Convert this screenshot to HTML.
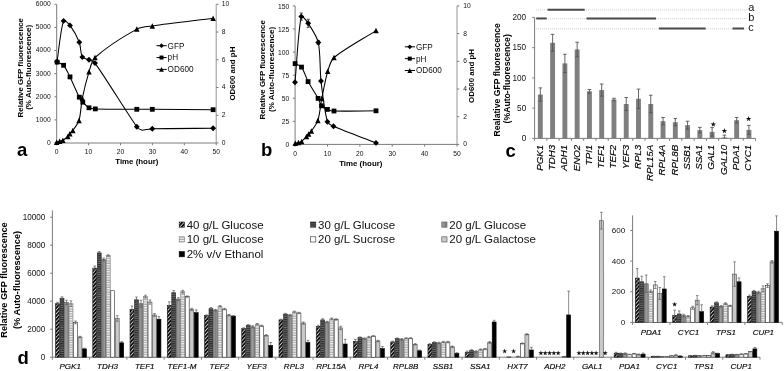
<!DOCTYPE html>
<html><head><meta charset="utf-8"><title>Figure</title>
<style>
html,body{margin:0;padding:0;background:#fff;}
body{width:784px;height:371px;overflow:hidden;font-family:"Liberation Sans",sans-serif;}
svg{display:block;font-family:"Liberation Sans",sans-serif;will-change:transform;filter:grayscale(1) blur(0.4px);}
</style></head><body>
<svg width="784" height="371" viewBox="0 0 784 371">
<defs>
<pattern id="p1" patternUnits="userSpaceOnUse" width="2.6" height="2.6" patternTransform="rotate(-48)">
<rect width="2.6" height="2.6" fill="#fff"/><rect width="2.6" height="1.9" fill="#0c0c0c"/></pattern>
<pattern id="p2" patternUnits="userSpaceOnUse" width="4" height="2.2">
<rect width="4" height="2.2" fill="#2c2c2c"/><rect y="1.2" width="4" height="1.0" fill="#6c6c6c"/></pattern>
<pattern id="p3" patternUnits="userSpaceOnUse" width="1.3" height="4">
<rect width="1.3" height="4" fill="#808080"/><rect width="0.6" height="4" fill="#a0a0a0"/></pattern>
<pattern id="p4" patternUnits="userSpaceOnUse" width="4" height="2.4">
<rect width="4" height="2.4" fill="#f6f6f6"/><rect y="1.2" width="4" height="1.2" fill="#a9a9a9"/></pattern>
</defs>
<rect width="784" height="371" fill="#fff"/>
<line x1="56.70" y1="4.30" x2="56.70" y2="143.00" stroke="#7c7c7c" stroke-width="1"/>
<line x1="216.20" y1="4.30" x2="216.20" y2="143.00" stroke="#8a8a8a" stroke-width="0.9"/>
<line x1="56.70" y1="143.00" x2="216.20" y2="143.00" stroke="#7c7c7c" stroke-width="1"/>
<line x1="54.40" y1="143.00" x2="56.70" y2="143.00" stroke="#7c7c7c" stroke-width="1"/>
<text transform="translate(50.80 144.90) scale(0.85 1)" font-size="7.9" text-anchor="end" font-weight="normal" font-style="normal" fill="#111">0</text>
<line x1="54.40" y1="119.88" x2="56.70" y2="119.88" stroke="#7c7c7c" stroke-width="1"/>
<text transform="translate(50.80 121.78) scale(0.85 1)" font-size="7.9" text-anchor="end" font-weight="normal" font-style="normal" fill="#111">1000</text>
<line x1="54.40" y1="96.77" x2="56.70" y2="96.77" stroke="#7c7c7c" stroke-width="1"/>
<text transform="translate(50.80 98.67) scale(0.85 1)" font-size="7.9" text-anchor="end" font-weight="normal" font-style="normal" fill="#111">2000</text>
<line x1="54.40" y1="73.65" x2="56.70" y2="73.65" stroke="#7c7c7c" stroke-width="1"/>
<text transform="translate(50.80 75.55) scale(0.85 1)" font-size="7.9" text-anchor="end" font-weight="normal" font-style="normal" fill="#111">3000</text>
<line x1="54.40" y1="50.53" x2="56.70" y2="50.53" stroke="#7c7c7c" stroke-width="1"/>
<text transform="translate(50.80 52.43) scale(0.85 1)" font-size="7.9" text-anchor="end" font-weight="normal" font-style="normal" fill="#111">4000</text>
<line x1="54.40" y1="27.42" x2="56.70" y2="27.42" stroke="#7c7c7c" stroke-width="1"/>
<text transform="translate(50.80 29.32) scale(0.85 1)" font-size="7.9" text-anchor="end" font-weight="normal" font-style="normal" fill="#111">5000</text>
<line x1="54.40" y1="4.30" x2="56.70" y2="4.30" stroke="#7c7c7c" stroke-width="1"/>
<text transform="translate(50.80 6.20) scale(0.85 1)" font-size="7.9" text-anchor="end" font-weight="normal" font-style="normal" fill="#111">6000</text>
<line x1="216.20" y1="143.00" x2="218.50" y2="143.00" stroke="#7c7c7c" stroke-width="1"/>
<text transform="translate(221.70 144.90) scale(0.85 1)" font-size="7.9" text-anchor="start" font-weight="normal" font-style="normal" fill="#111">0</text>
<line x1="216.20" y1="115.26" x2="218.50" y2="115.26" stroke="#7c7c7c" stroke-width="1"/>
<text transform="translate(221.70 117.16) scale(0.85 1)" font-size="7.9" text-anchor="start" font-weight="normal" font-style="normal" fill="#111">2</text>
<line x1="216.20" y1="87.52" x2="218.50" y2="87.52" stroke="#7c7c7c" stroke-width="1"/>
<text transform="translate(221.70 89.42) scale(0.85 1)" font-size="7.9" text-anchor="start" font-weight="normal" font-style="normal" fill="#111">4</text>
<line x1="216.20" y1="59.78" x2="218.50" y2="59.78" stroke="#7c7c7c" stroke-width="1"/>
<text transform="translate(221.70 61.68) scale(0.85 1)" font-size="7.9" text-anchor="start" font-weight="normal" font-style="normal" fill="#111">6</text>
<line x1="216.20" y1="32.04" x2="218.50" y2="32.04" stroke="#7c7c7c" stroke-width="1"/>
<text transform="translate(221.70 33.94) scale(0.85 1)" font-size="7.9" text-anchor="start" font-weight="normal" font-style="normal" fill="#111">8</text>
<line x1="216.20" y1="4.30" x2="218.50" y2="4.30" stroke="#7c7c7c" stroke-width="1"/>
<text transform="translate(221.70 6.20) scale(0.85 1)" font-size="7.9" text-anchor="start" font-weight="normal" font-style="normal" fill="#111">10</text>
<line x1="56.70" y1="143.00" x2="56.70" y2="145.30" stroke="#7c7c7c" stroke-width="1"/>
<text transform="translate(56.70 154.40) scale(0.85 1)" font-size="7.9" text-anchor="middle" font-weight="normal" font-style="normal" fill="#111">0</text>
<line x1="88.60" y1="143.00" x2="88.60" y2="145.30" stroke="#7c7c7c" stroke-width="1"/>
<text transform="translate(88.60 154.40) scale(0.85 1)" font-size="7.9" text-anchor="middle" font-weight="normal" font-style="normal" fill="#111">10</text>
<line x1="120.50" y1="143.00" x2="120.50" y2="145.30" stroke="#7c7c7c" stroke-width="1"/>
<text transform="translate(120.50 154.40) scale(0.85 1)" font-size="7.9" text-anchor="middle" font-weight="normal" font-style="normal" fill="#111">20</text>
<line x1="152.40" y1="143.00" x2="152.40" y2="145.30" stroke="#7c7c7c" stroke-width="1"/>
<text transform="translate(152.40 154.40) scale(0.85 1)" font-size="7.9" text-anchor="middle" font-weight="normal" font-style="normal" fill="#111">30</text>
<line x1="184.30" y1="143.00" x2="184.30" y2="145.30" stroke="#7c7c7c" stroke-width="1"/>
<text transform="translate(184.30 154.40) scale(0.85 1)" font-size="7.9" text-anchor="middle" font-weight="normal" font-style="normal" fill="#111">40</text>
<line x1="216.20" y1="143.00" x2="216.20" y2="145.30" stroke="#7c7c7c" stroke-width="1"/>
<text transform="translate(216.20 154.40) scale(0.85 1)" font-size="7.9" text-anchor="middle" font-weight="normal" font-style="normal" fill="#111">50</text>
<text x="136.85" y="164.30" font-size="7.9" text-anchor="middle" font-weight="bold" font-style="normal" fill="#000">Time (hour)</text>
<text x="23.00" y="67.70" font-size="7.9" text-anchor="middle" font-weight="bold" font-style="normal" fill="#000" transform="rotate(-90 23.00 67.70)">Relative GFP fluorescence</text>
<text x="31.40" y="67.30" font-size="8.05" text-anchor="middle" font-weight="bold" font-style="normal" fill="#000" transform="rotate(-90 31.40 67.30)">(% Auto-fluorescence)</text>
<text x="234.70" y="73.60" font-size="7.9" text-anchor="middle" font-weight="bold" font-style="normal" fill="#000" transform="rotate(-90 234.70 73.60)">OD600 and pH</text>
<path d="M57.00,61.70 C58.85,50.28 60.54,29.45 63.60,20.90 C64.18,19.28 68.73,23.67 70.00,25.40 C73.12,29.64 77.38,37.25 79.30,42.20 C80.82,46.12 80.46,53.77 82.30,57.10 C83.17,58.67 87.19,58.84 89.00,59.70 C90.74,60.52 93.89,61.54 95.00,63.10 C107.27,80.33 124.68,109.37 136.80,126.80 C137.73,128.13 140.13,129.68 141.60,130.10 C142.84,130.46 145.13,129.78 146.50,129.60 C148.13,129.39 150.66,128.73 152.30,128.70 C169.31,128.37 196.08,128.41 213.10,128.30" fill="none" stroke="#000" stroke-width="1.05"/>
<path d="M57.10,62.10 C58.92,63.00 62.32,63.83 63.60,65.30 C65.94,67.98 68.36,73.57 70.00,76.90 C72.76,82.51 76.49,91.64 79.30,97.20 C80.07,98.72 81.65,100.95 82.80,102.20 C84.37,103.92 87.02,106.74 89.00,107.80 C90.52,108.61 93.51,108.84 95.30,108.90 C106.90,109.26 125.18,109.22 136.80,109.30 C141.14,109.33 147.96,109.28 152.30,109.30 C169.32,109.39 196.08,109.59 213.10,109.70" fill="none" stroke="#000" stroke-width="1.05"/>
<path d="M56.60,142.20 C57.44,141.92 58.76,141.47 59.60,141.20 C60.52,140.91 62.07,140.67 62.90,140.20 C64.37,139.36 66.55,137.66 67.80,136.50 C68.48,135.87 69.20,134.52 69.80,133.80 C70.60,132.84 72.09,131.52 72.80,130.50 C74.67,127.80 78.09,123.60 79.00,120.50 C80.75,114.58 81.04,104.45 82.30,98.30 C83.84,90.81 86.73,79.09 89.00,71.80 C90.29,67.66 91.86,60.31 95.00,57.50 C105.24,48.35 124.58,35.84 136.80,29.10 C140.63,26.99 147.91,26.52 152.30,25.90 C169.28,23.50 196.08,20.43 213.10,18.30" fill="none" stroke="#000" stroke-width="1.05"/>
<path d="M54.05,61.70 L57.00,58.75 L59.95,61.70 L57.00,64.65Z" fill="#000"/>
<path d="M60.65,20.90 L63.60,17.95 L66.55,20.90 L63.60,23.85Z" fill="#000"/>
<path d="M67.05,25.40 L70.00,22.45 L72.95,25.40 L70.00,28.35Z" fill="#000"/>
<path d="M76.35,42.20 L79.30,39.25 L82.25,42.20 L79.30,45.15Z" fill="#000"/>
<path d="M79.35,57.10 L82.30,54.15 L85.25,57.10 L82.30,60.05Z" fill="#000"/>
<path d="M86.05,59.70 L89.00,56.75 L91.95,59.70 L89.00,62.65Z" fill="#000"/>
<path d="M92.05,63.10 L95.00,60.15 L97.95,63.10 L95.00,66.05Z" fill="#000"/>
<path d="M133.85,126.80 L136.80,123.85 L139.75,126.80 L136.80,129.75Z" fill="#000"/>
<path d="M149.35,128.70 L152.30,125.75 L155.25,128.70 L152.30,131.65Z" fill="#000"/>
<path d="M210.15,128.30 L213.10,125.35 L216.05,128.30 L213.10,131.25Z" fill="#000"/>
<rect x="54.70" y="59.70" width="4.80" height="4.80" fill="#000" stroke="none" stroke-width="0"/>
<rect x="61.20" y="62.90" width="4.80" height="4.80" fill="#000" stroke="none" stroke-width="0"/>
<rect x="67.60" y="74.50" width="4.80" height="4.80" fill="#000" stroke="none" stroke-width="0"/>
<rect x="76.90" y="94.80" width="4.80" height="4.80" fill="#000" stroke="none" stroke-width="0"/>
<rect x="80.40" y="99.80" width="4.80" height="4.80" fill="#000" stroke="none" stroke-width="0"/>
<rect x="86.60" y="105.40" width="4.80" height="4.80" fill="#000" stroke="none" stroke-width="0"/>
<rect x="92.90" y="106.50" width="4.80" height="4.80" fill="#000" stroke="none" stroke-width="0"/>
<rect x="134.40" y="106.90" width="4.80" height="4.80" fill="#000" stroke="none" stroke-width="0"/>
<rect x="149.90" y="106.90" width="4.80" height="4.80" fill="#000" stroke="none" stroke-width="0"/>
<rect x="210.70" y="107.30" width="4.80" height="4.80" fill="#000" stroke="none" stroke-width="0"/>
<path d="M53.85,144.95 L56.60,139.45 L59.35,144.95Z" fill="#000"/>
<path d="M56.85,143.95 L59.60,138.45 L62.35,143.95Z" fill="#000"/>
<path d="M60.15,142.95 L62.90,137.45 L65.65,142.95Z" fill="#000"/>
<path d="M65.05,139.25 L67.80,133.75 L70.55,139.25Z" fill="#000"/>
<path d="M67.05,136.55 L69.80,131.05 L72.55,136.55Z" fill="#000"/>
<path d="M70.05,133.25 L72.80,127.75 L75.55,133.25Z" fill="#000"/>
<path d="M76.25,123.25 L79.00,117.75 L81.75,123.25Z" fill="#000"/>
<path d="M79.55,101.05 L82.30,95.55 L85.05,101.05Z" fill="#000"/>
<path d="M86.25,74.55 L89.00,69.05 L91.75,74.55Z" fill="#000"/>
<path d="M92.25,60.25 L95.00,54.75 L97.75,60.25Z" fill="#000"/>
<path d="M134.05,31.85 L136.80,26.35 L139.55,31.85Z" fill="#000"/>
<path d="M149.55,28.65 L152.30,23.15 L155.05,28.65Z" fill="#000"/>
<path d="M210.35,21.05 L213.10,15.55 L215.85,21.05Z" fill="#000"/>
<text x="17.00" y="155.90" font-size="18.5" text-anchor="start" font-weight="bold" font-style="normal" fill="#000">a</text>
<line x1="156.50" y1="45.70" x2="166.70" y2="45.70" stroke="#000" stroke-width="1"/>
<path d="M159.10,45.70 L161.50,43.30 L163.90,45.70 L161.50,48.10Z" fill="#000"/>
<text x="167.60" y="48.60" font-size="8.2" text-anchor="start" font-weight="normal" font-style="normal" fill="#111">GFP</text>
<line x1="156.50" y1="57.55" x2="166.70" y2="57.55" stroke="#000" stroke-width="1"/>
<rect x="159.50" y="55.55" width="4.00" height="4.00" fill="#000" stroke="none" stroke-width="0"/>
<text x="167.60" y="60.45" font-size="8.2" text-anchor="start" font-weight="normal" font-style="normal" fill="#111">pH</text>
<line x1="156.50" y1="69.40" x2="166.70" y2="69.40" stroke="#000" stroke-width="1"/>
<path d="M159.10,71.80 L161.50,67.00 L163.90,71.80Z" fill="#000"/>
<text x="167.60" y="72.30" font-size="8.2" text-anchor="start" font-weight="normal" font-style="normal" fill="#111">OD600</text>
<line x1="295.10" y1="5.90" x2="295.10" y2="144.40" stroke="#7c7c7c" stroke-width="1"/>
<line x1="457.00" y1="5.90" x2="457.00" y2="144.40" stroke="#8a8a8a" stroke-width="0.9"/>
<line x1="295.10" y1="144.40" x2="457.00" y2="144.40" stroke="#7c7c7c" stroke-width="1"/>
<line x1="292.80" y1="144.40" x2="295.10" y2="144.40" stroke="#7c7c7c" stroke-width="1"/>
<text transform="translate(289.20 147.00) scale(0.85 1)" font-size="7.9" text-anchor="end" font-weight="normal" font-style="normal" fill="#111">0</text>
<line x1="292.80" y1="121.32" x2="295.10" y2="121.32" stroke="#7c7c7c" stroke-width="1"/>
<text transform="translate(289.20 123.92) scale(0.85 1)" font-size="7.9" text-anchor="end" font-weight="normal" font-style="normal" fill="#111">25</text>
<line x1="292.80" y1="98.23" x2="295.10" y2="98.23" stroke="#7c7c7c" stroke-width="1"/>
<text transform="translate(289.20 100.83) scale(0.85 1)" font-size="7.9" text-anchor="end" font-weight="normal" font-style="normal" fill="#111">50</text>
<line x1="292.80" y1="75.15" x2="295.10" y2="75.15" stroke="#7c7c7c" stroke-width="1"/>
<text transform="translate(289.20 77.75) scale(0.85 1)" font-size="7.9" text-anchor="end" font-weight="normal" font-style="normal" fill="#111">75</text>
<line x1="292.80" y1="52.07" x2="295.10" y2="52.07" stroke="#7c7c7c" stroke-width="1"/>
<text transform="translate(289.20 54.67) scale(0.85 1)" font-size="7.9" text-anchor="end" font-weight="normal" font-style="normal" fill="#111">100</text>
<line x1="292.80" y1="28.98" x2="295.10" y2="28.98" stroke="#7c7c7c" stroke-width="1"/>
<text transform="translate(289.20 31.58) scale(0.85 1)" font-size="7.9" text-anchor="end" font-weight="normal" font-style="normal" fill="#111">125</text>
<line x1="292.80" y1="5.90" x2="295.10" y2="5.90" stroke="#7c7c7c" stroke-width="1"/>
<text transform="translate(289.20 8.50) scale(0.85 1)" font-size="7.9" text-anchor="end" font-weight="normal" font-style="normal" fill="#111">150</text>
<line x1="457.00" y1="144.40" x2="459.30" y2="144.40" stroke="#7c7c7c" stroke-width="1"/>
<text transform="translate(463.20 146.30) scale(0.85 1)" font-size="7.9" text-anchor="start" font-weight="normal" font-style="normal" fill="#111">0</text>
<line x1="457.00" y1="116.70" x2="459.30" y2="116.70" stroke="#7c7c7c" stroke-width="1"/>
<text transform="translate(463.20 118.60) scale(0.85 1)" font-size="7.9" text-anchor="start" font-weight="normal" font-style="normal" fill="#111">2</text>
<line x1="457.00" y1="89.00" x2="459.30" y2="89.00" stroke="#7c7c7c" stroke-width="1"/>
<text transform="translate(463.20 90.90) scale(0.85 1)" font-size="7.9" text-anchor="start" font-weight="normal" font-style="normal" fill="#111">4</text>
<line x1="457.00" y1="61.30" x2="459.30" y2="61.30" stroke="#7c7c7c" stroke-width="1"/>
<text transform="translate(463.20 63.20) scale(0.85 1)" font-size="7.9" text-anchor="start" font-weight="normal" font-style="normal" fill="#111">6</text>
<line x1="457.00" y1="33.60" x2="459.30" y2="33.60" stroke="#7c7c7c" stroke-width="1"/>
<text transform="translate(463.20 35.50) scale(0.85 1)" font-size="7.9" text-anchor="start" font-weight="normal" font-style="normal" fill="#111">8</text>
<line x1="457.00" y1="5.90" x2="459.30" y2="5.90" stroke="#7c7c7c" stroke-width="1"/>
<text transform="translate(463.20 7.80) scale(0.85 1)" font-size="7.9" text-anchor="start" font-weight="normal" font-style="normal" fill="#111">10</text>
<line x1="295.10" y1="144.40" x2="295.10" y2="146.70" stroke="#7c7c7c" stroke-width="1"/>
<text transform="translate(295.10 155.80) scale(0.85 1)" font-size="7.9" text-anchor="middle" font-weight="normal" font-style="normal" fill="#111">0</text>
<line x1="327.48" y1="144.40" x2="327.48" y2="146.70" stroke="#7c7c7c" stroke-width="1"/>
<text transform="translate(327.48 155.80) scale(0.85 1)" font-size="7.9" text-anchor="middle" font-weight="normal" font-style="normal" fill="#111">10</text>
<line x1="359.86" y1="144.40" x2="359.86" y2="146.70" stroke="#7c7c7c" stroke-width="1"/>
<text transform="translate(359.86 155.80) scale(0.85 1)" font-size="7.9" text-anchor="middle" font-weight="normal" font-style="normal" fill="#111">20</text>
<line x1="392.24" y1="144.40" x2="392.24" y2="146.70" stroke="#7c7c7c" stroke-width="1"/>
<text transform="translate(392.24 155.80) scale(0.85 1)" font-size="7.9" text-anchor="middle" font-weight="normal" font-style="normal" fill="#111">30</text>
<line x1="424.62" y1="144.40" x2="424.62" y2="146.70" stroke="#7c7c7c" stroke-width="1"/>
<text transform="translate(424.62 155.80) scale(0.85 1)" font-size="7.9" text-anchor="middle" font-weight="normal" font-style="normal" fill="#111">40</text>
<line x1="457.00" y1="144.40" x2="457.00" y2="146.70" stroke="#7c7c7c" stroke-width="1"/>
<text transform="translate(457.00 155.80) scale(0.85 1)" font-size="7.9" text-anchor="middle" font-weight="normal" font-style="normal" fill="#111">50</text>
<text x="360.80" y="165.70" font-size="7.9" text-anchor="middle" font-weight="bold" font-style="normal" fill="#000">Time (hour)</text>
<text x="265.10" y="69.80" font-size="7.9" text-anchor="middle" font-weight="bold" font-style="normal" fill="#000" transform="rotate(-90 265.10 69.80)">Relative GFP fluorescence</text>
<text x="274.30" y="69.40" font-size="8.05" text-anchor="middle" font-weight="bold" font-style="normal" fill="#000" transform="rotate(-90 274.30 69.40)">(% Auto-fluorescence)</text>
<text x="473.60" y="75.90" font-size="7.9" text-anchor="middle" font-weight="bold" font-style="normal" fill="#000" transform="rotate(-90 473.60 75.90)">OD600 and pH</text>
<path d="M295.00,82.20 C296.76,63.83 298.07,30.99 301.30,16.60 C301.77,14.50 306.74,21.07 308.20,23.30 C311.50,28.32 317.01,36.69 318.30,42.50 C320.59,52.84 319.77,70.27 321.00,81.00 C322.32,92.45 324.45,111.00 327.40,121.70 C327.95,123.68 331.55,125.45 333.50,126.30 C345.16,131.38 364.10,138.25 376.00,142.90" fill="none" stroke="#000" stroke-width="1.05"/>
<path d="M295.10,63.60 C296.89,64.58 300.36,65.52 301.50,67.10 C304.00,70.56 306.01,77.67 308.10,81.60 C310.66,86.43 315.45,93.62 318.10,98.40 C319.20,100.39 320.09,104.13 321.50,105.80 C322.70,107.21 325.63,108.67 327.40,109.40 C329.13,110.12 332.11,110.95 334.00,111.00 C345.71,111.34 364.24,110.86 376.00,110.80" fill="none" stroke="#000" stroke-width="1.05"/>
<path d="M295.30,143.30 C296.20,143.08 297.62,142.76 298.50,142.50 C299.41,142.23 300.96,141.95 301.70,141.40 C303.20,140.27 305.20,137.91 306.50,136.50 C307.13,135.81 307.97,134.59 308.60,133.90 C309.34,133.08 310.77,132.01 311.40,131.10 C313.38,128.23 316.85,123.69 317.90,120.40 C319.76,114.56 320.58,104.61 321.80,98.50 C323.33,90.86 325.49,78.73 327.70,71.30 C328.91,67.25 330.85,60.16 334.00,57.50 C344.37,48.76 364.24,38.13 376.00,30.60" fill="none" stroke="#000" stroke-width="1.05"/>
<line x1="301.30" y1="13.00" x2="301.30" y2="20.20" stroke="#333" stroke-width="0.9"/>
<line x1="299.80" y1="13.00" x2="302.80" y2="13.00" stroke="#333" stroke-width="0.9"/>
<line x1="299.80" y1="20.20" x2="302.80" y2="20.20" stroke="#333" stroke-width="0.9"/>
<line x1="308.20" y1="19.30" x2="308.20" y2="27.30" stroke="#333" stroke-width="0.9"/>
<line x1="306.70" y1="19.30" x2="309.70" y2="19.30" stroke="#333" stroke-width="0.9"/>
<line x1="306.70" y1="27.30" x2="309.70" y2="27.30" stroke="#333" stroke-width="0.9"/>
<line x1="318.30" y1="40.50" x2="318.30" y2="44.50" stroke="#333" stroke-width="0.9"/>
<line x1="316.80" y1="40.50" x2="319.80" y2="40.50" stroke="#333" stroke-width="0.9"/>
<line x1="316.80" y1="44.50" x2="319.80" y2="44.50" stroke="#333" stroke-width="0.9"/>
<path d="M292.05,82.20 L295.00,79.25 L297.95,82.20 L295.00,85.15Z" fill="#000"/>
<path d="M298.35,16.60 L301.30,13.65 L304.25,16.60 L301.30,19.55Z" fill="#000"/>
<path d="M305.25,23.30 L308.20,20.35 L311.15,23.30 L308.20,26.25Z" fill="#000"/>
<path d="M315.35,42.50 L318.30,39.55 L321.25,42.50 L318.30,45.45Z" fill="#000"/>
<path d="M318.05,81.00 L321.00,78.05 L323.95,81.00 L321.00,83.95Z" fill="#000"/>
<path d="M324.45,121.70 L327.40,118.75 L330.35,121.70 L327.40,124.65Z" fill="#000"/>
<path d="M330.55,126.30 L333.50,123.35 L336.45,126.30 L333.50,129.25Z" fill="#000"/>
<path d="M373.05,142.90 L376.00,139.95 L378.95,142.90 L376.00,145.85Z" fill="#000"/>
<rect x="292.70" y="61.20" width="4.80" height="4.80" fill="#000" stroke="none" stroke-width="0"/>
<rect x="299.10" y="64.70" width="4.80" height="4.80" fill="#000" stroke="none" stroke-width="0"/>
<rect x="305.70" y="79.20" width="4.80" height="4.80" fill="#000" stroke="none" stroke-width="0"/>
<rect x="315.70" y="96.00" width="4.80" height="4.80" fill="#000" stroke="none" stroke-width="0"/>
<rect x="319.10" y="103.40" width="4.80" height="4.80" fill="#000" stroke="none" stroke-width="0"/>
<rect x="325.00" y="107.00" width="4.80" height="4.80" fill="#000" stroke="none" stroke-width="0"/>
<rect x="331.60" y="108.60" width="4.80" height="4.80" fill="#000" stroke="none" stroke-width="0"/>
<rect x="373.60" y="108.40" width="4.80" height="4.80" fill="#000" stroke="none" stroke-width="0"/>
<path d="M292.55,146.05 L295.30,140.55 L298.05,146.05Z" fill="#000"/>
<path d="M295.75,145.25 L298.50,139.75 L301.25,145.25Z" fill="#000"/>
<path d="M298.95,144.15 L301.70,138.65 L304.45,144.15Z" fill="#000"/>
<path d="M303.75,139.25 L306.50,133.75 L309.25,139.25Z" fill="#000"/>
<path d="M305.85,136.65 L308.60,131.15 L311.35,136.65Z" fill="#000"/>
<path d="M308.65,133.85 L311.40,128.35 L314.15,133.85Z" fill="#000"/>
<path d="M315.15,123.15 L317.90,117.65 L320.65,123.15Z" fill="#000"/>
<path d="M319.05,101.25 L321.80,95.75 L324.55,101.25Z" fill="#000"/>
<path d="M324.95,74.05 L327.70,68.55 L330.45,74.05Z" fill="#000"/>
<path d="M331.25,60.25 L334.00,54.75 L336.75,60.25Z" fill="#000"/>
<path d="M373.25,33.35 L376.00,27.85 L378.75,33.35Z" fill="#000"/>
<text x="261.00" y="155.90" font-size="18.5" text-anchor="start" font-weight="bold" font-style="normal" fill="#000">b</text>
<line x1="404.80" y1="46.80" x2="415.00" y2="46.80" stroke="#000" stroke-width="1"/>
<path d="M407.40,46.80 L409.80,44.40 L412.20,46.80 L409.80,49.20Z" fill="#000"/>
<text x="415.90" y="49.70" font-size="8.2" text-anchor="start" font-weight="normal" font-style="normal" fill="#111">GFP</text>
<line x1="404.80" y1="58.65" x2="415.00" y2="58.65" stroke="#000" stroke-width="1"/>
<rect x="407.80" y="56.65" width="4.00" height="4.00" fill="#000" stroke="none" stroke-width="0"/>
<text x="415.90" y="61.55" font-size="8.2" text-anchor="start" font-weight="normal" font-style="normal" fill="#111">pH</text>
<line x1="404.80" y1="70.50" x2="415.00" y2="70.50" stroke="#000" stroke-width="1"/>
<path d="M407.40,72.90 L409.80,68.10 L412.20,72.90Z" fill="#000"/>
<text x="415.90" y="73.40" font-size="8.2" text-anchor="start" font-weight="normal" font-style="normal" fill="#111">OD600</text>
<line x1="534.60" y1="17.40" x2="534.60" y2="138.40" stroke="#7c7c7c" stroke-width="1"/>
<line x1="534.60" y1="138.40" x2="755.46" y2="138.40" stroke="#7c7c7c" stroke-width="1"/>
<line x1="534.60" y1="138.40" x2="534.60" y2="140.90" stroke="#7c7c7c" stroke-width="1"/>
<line x1="546.87" y1="138.40" x2="546.87" y2="140.90" stroke="#7c7c7c" stroke-width="1"/>
<line x1="559.14" y1="138.40" x2="559.14" y2="140.90" stroke="#7c7c7c" stroke-width="1"/>
<line x1="571.41" y1="138.40" x2="571.41" y2="140.90" stroke="#7c7c7c" stroke-width="1"/>
<line x1="583.68" y1="138.40" x2="583.68" y2="140.90" stroke="#7c7c7c" stroke-width="1"/>
<line x1="595.95" y1="138.40" x2="595.95" y2="140.90" stroke="#7c7c7c" stroke-width="1"/>
<line x1="608.22" y1="138.40" x2="608.22" y2="140.90" stroke="#7c7c7c" stroke-width="1"/>
<line x1="620.49" y1="138.40" x2="620.49" y2="140.90" stroke="#7c7c7c" stroke-width="1"/>
<line x1="632.76" y1="138.40" x2="632.76" y2="140.90" stroke="#7c7c7c" stroke-width="1"/>
<line x1="645.03" y1="138.40" x2="645.03" y2="140.90" stroke="#7c7c7c" stroke-width="1"/>
<line x1="657.30" y1="138.40" x2="657.30" y2="140.90" stroke="#7c7c7c" stroke-width="1"/>
<line x1="669.57" y1="138.40" x2="669.57" y2="140.90" stroke="#7c7c7c" stroke-width="1"/>
<line x1="681.84" y1="138.40" x2="681.84" y2="140.90" stroke="#7c7c7c" stroke-width="1"/>
<line x1="694.11" y1="138.40" x2="694.11" y2="140.90" stroke="#7c7c7c" stroke-width="1"/>
<line x1="706.38" y1="138.40" x2="706.38" y2="140.90" stroke="#7c7c7c" stroke-width="1"/>
<line x1="718.65" y1="138.40" x2="718.65" y2="140.90" stroke="#7c7c7c" stroke-width="1"/>
<line x1="730.92" y1="138.40" x2="730.92" y2="140.90" stroke="#7c7c7c" stroke-width="1"/>
<line x1="743.19" y1="138.40" x2="743.19" y2="140.90" stroke="#7c7c7c" stroke-width="1"/>
<line x1="755.46" y1="138.40" x2="755.46" y2="140.90" stroke="#7c7c7c" stroke-width="1"/>
<line x1="532.30" y1="138.40" x2="534.60" y2="138.40" stroke="#7c7c7c" stroke-width="1"/>
<text x="526.20" y="141.20" font-size="8.2" text-anchor="end" font-weight="normal" font-style="normal" fill="#111">0</text>
<line x1="532.30" y1="108.15" x2="534.60" y2="108.15" stroke="#7c7c7c" stroke-width="1"/>
<text x="526.20" y="110.95" font-size="8.2" text-anchor="end" font-weight="normal" font-style="normal" fill="#111">50</text>
<line x1="532.30" y1="77.90" x2="534.60" y2="77.90" stroke="#7c7c7c" stroke-width="1"/>
<text x="526.20" y="80.70" font-size="8.2" text-anchor="end" font-weight="normal" font-style="normal" fill="#111">100</text>
<line x1="532.30" y1="47.65" x2="534.60" y2="47.65" stroke="#7c7c7c" stroke-width="1"/>
<text x="526.20" y="50.45" font-size="8.2" text-anchor="end" font-weight="normal" font-style="normal" fill="#111">150</text>
<line x1="532.30" y1="17.40" x2="534.60" y2="17.40" stroke="#7c7c7c" stroke-width="1"/>
<text x="526.20" y="20.20" font-size="8.2" text-anchor="end" font-weight="normal" font-style="normal" fill="#111">200</text>
<line x1="535.90" y1="9.90" x2="746.90" y2="9.90" stroke="#c2c2c2" stroke-width="0.8" stroke-dasharray="1,1"/>
<line x1="535.90" y1="18.70" x2="746.90" y2="18.70" stroke="#c2c2c2" stroke-width="0.8" stroke-dasharray="1,1"/>
<line x1="535.90" y1="28.90" x2="746.90" y2="28.90" stroke="#c2c2c2" stroke-width="0.8" stroke-dasharray="1,1"/>
<line x1="547.50" y1="9.80" x2="584.70" y2="9.80" stroke="#4a4a4a" stroke-width="2.0"/>
<line x1="536.20" y1="18.45" x2="546.70" y2="18.45" stroke="#4a4a4a" stroke-width="2.0"/>
<line x1="586.50" y1="18.45" x2="656.00" y2="18.45" stroke="#4a4a4a" stroke-width="2.0"/>
<line x1="658.90" y1="28.50" x2="705.70" y2="28.50" stroke="#4a4a4a" stroke-width="2.0"/>
<line x1="732.50" y1="28.50" x2="744.00" y2="28.50" stroke="#4a4a4a" stroke-width="2.0"/>
<text x="748.30" y="11.20" font-size="11" text-anchor="start" font-weight="normal" font-style="normal" fill="#111">a</text>
<text x="748.30" y="21.00" font-size="11" text-anchor="start" font-weight="normal" font-style="normal" fill="#111">b</text>
<text x="748.30" y="31.30" font-size="11" text-anchor="start" font-weight="normal" font-style="normal" fill="#111">c</text>
<rect x="537.88" y="94.54" width="4.90" height="43.86" fill="#7f7f7f" stroke="none" stroke-width="0"/>
<line x1="540.34" y1="87.88" x2="540.34" y2="101.19" stroke="#555" stroke-width="0.9"/>
<line x1="538.54" y1="87.88" x2="542.13" y2="87.88" stroke="#555" stroke-width="0.9"/>
<line x1="538.54" y1="101.19" x2="542.13" y2="101.19" stroke="#555" stroke-width="0.9"/>
<text x="542.74" y="144.70" font-size="9.75" text-anchor="end" font-weight="normal" font-style="italic" fill="#000" transform="rotate(-90 542.74 144.70)" stroke="#000" stroke-width="0.15">PGK1</text>
<rect x="550.15" y="42.81" width="4.90" height="95.59" fill="#7f7f7f" stroke="none" stroke-width="0"/>
<line x1="552.61" y1="34.34" x2="552.61" y2="51.28" stroke="#555" stroke-width="0.9"/>
<line x1="550.81" y1="34.34" x2="554.40" y2="34.34" stroke="#555" stroke-width="0.9"/>
<line x1="550.81" y1="51.28" x2="554.40" y2="51.28" stroke="#555" stroke-width="0.9"/>
<text x="555.00" y="144.70" font-size="9.75" text-anchor="end" font-weight="normal" font-style="italic" fill="#000" transform="rotate(-90 555.00 144.70)" stroke="#000" stroke-width="0.15">TDH3</text>
<rect x="562.42" y="63.38" width="4.90" height="75.02" fill="#7f7f7f" stroke="none" stroke-width="0"/>
<line x1="564.88" y1="54.31" x2="564.88" y2="72.46" stroke="#555" stroke-width="0.9"/>
<line x1="563.08" y1="54.31" x2="566.67" y2="54.31" stroke="#555" stroke-width="0.9"/>
<line x1="563.08" y1="72.46" x2="566.67" y2="72.46" stroke="#555" stroke-width="0.9"/>
<text x="567.27" y="144.70" font-size="9.75" text-anchor="end" font-weight="normal" font-style="italic" fill="#000" transform="rotate(-90 567.27 144.70)" stroke="#000" stroke-width="0.15">ADH1</text>
<rect x="574.70" y="49.47" width="4.90" height="88.94" fill="#7f7f7f" stroke="none" stroke-width="0"/>
<line x1="577.15" y1="42.21" x2="577.15" y2="56.73" stroke="#555" stroke-width="0.9"/>
<line x1="575.35" y1="42.21" x2="578.95" y2="42.21" stroke="#555" stroke-width="0.9"/>
<line x1="575.35" y1="56.73" x2="578.95" y2="56.73" stroke="#555" stroke-width="0.9"/>
<text x="579.55" y="144.70" font-size="9.75" text-anchor="end" font-weight="normal" font-style="italic" fill="#000" transform="rotate(-90 579.55 144.70)" stroke="#000" stroke-width="0.15">ENO2</text>
<rect x="586.97" y="91.33" width="4.90" height="47.07" fill="#7f7f7f" stroke="none" stroke-width="0"/>
<line x1="589.42" y1="89.52" x2="589.42" y2="93.15" stroke="#555" stroke-width="0.9"/>
<line x1="587.62" y1="89.52" x2="591.22" y2="89.52" stroke="#555" stroke-width="0.9"/>
<line x1="587.62" y1="93.15" x2="591.22" y2="93.15" stroke="#555" stroke-width="0.9"/>
<text x="591.82" y="144.70" font-size="9.75" text-anchor="end" font-weight="normal" font-style="italic" fill="#000" transform="rotate(-90 591.82 144.70)" stroke="#000" stroke-width="0.15">TPI1</text>
<rect x="599.24" y="90.06" width="4.90" height="48.34" fill="#7f7f7f" stroke="none" stroke-width="0"/>
<line x1="601.69" y1="84.01" x2="601.69" y2="96.11" stroke="#555" stroke-width="0.9"/>
<line x1="599.89" y1="84.01" x2="603.49" y2="84.01" stroke="#555" stroke-width="0.9"/>
<line x1="599.89" y1="96.11" x2="603.49" y2="96.11" stroke="#555" stroke-width="0.9"/>
<text x="604.09" y="144.70" font-size="9.75" text-anchor="end" font-weight="normal" font-style="italic" fill="#000" transform="rotate(-90 604.09 144.70)" stroke="#000" stroke-width="0.15">TEF1</text>
<rect x="611.50" y="99.50" width="4.90" height="38.90" fill="#7f7f7f" stroke="none" stroke-width="0"/>
<line x1="613.96" y1="98.29" x2="613.96" y2="100.71" stroke="#555" stroke-width="0.9"/>
<line x1="612.16" y1="98.29" x2="615.75" y2="98.29" stroke="#555" stroke-width="0.9"/>
<line x1="612.16" y1="100.71" x2="615.75" y2="100.71" stroke="#555" stroke-width="0.9"/>
<text x="616.36" y="144.70" font-size="9.75" text-anchor="end" font-weight="normal" font-style="italic" fill="#000" transform="rotate(-90 616.36 144.70)" stroke="#000" stroke-width="0.15">TEF2</text>
<rect x="623.77" y="103.98" width="4.90" height="34.42" fill="#7f7f7f" stroke="none" stroke-width="0"/>
<line x1="626.23" y1="97.50" x2="626.23" y2="110.45" stroke="#555" stroke-width="0.9"/>
<line x1="624.43" y1="97.50" x2="628.02" y2="97.50" stroke="#555" stroke-width="0.9"/>
<line x1="624.43" y1="110.45" x2="628.02" y2="110.45" stroke="#555" stroke-width="0.9"/>
<text x="628.62" y="144.70" font-size="9.75" text-anchor="end" font-weight="normal" font-style="italic" fill="#000" transform="rotate(-90 628.62 144.70)" stroke="#000" stroke-width="0.15">YEF3</text>
<rect x="636.04" y="98.77" width="4.90" height="39.63" fill="#7f7f7f" stroke="none" stroke-width="0"/>
<line x1="638.50" y1="89.09" x2="638.50" y2="108.45" stroke="#555" stroke-width="0.9"/>
<line x1="636.70" y1="89.09" x2="640.29" y2="89.09" stroke="#555" stroke-width="0.9"/>
<line x1="636.70" y1="108.45" x2="640.29" y2="108.45" stroke="#555" stroke-width="0.9"/>
<text x="640.89" y="144.70" font-size="9.75" text-anchor="end" font-weight="normal" font-style="italic" fill="#000" transform="rotate(-90 640.89 144.70)" stroke="#000" stroke-width="0.15">RPL3</text>
<rect x="648.31" y="103.98" width="4.90" height="34.42" fill="#7f7f7f" stroke="none" stroke-width="0"/>
<line x1="650.76" y1="95.26" x2="650.76" y2="112.69" stroke="#555" stroke-width="0.9"/>
<line x1="648.97" y1="95.26" x2="652.56" y2="95.26" stroke="#555" stroke-width="0.9"/>
<line x1="648.97" y1="112.69" x2="652.56" y2="112.69" stroke="#555" stroke-width="0.9"/>
<text x="653.16" y="144.70" font-size="9.75" text-anchor="end" font-weight="normal" font-style="italic" fill="#000" transform="rotate(-90 653.16 144.70)" stroke="#000" stroke-width="0.15">RPL15A</text>
<rect x="660.59" y="121.16" width="4.90" height="17.24" fill="#7f7f7f" stroke="none" stroke-width="0"/>
<line x1="663.04" y1="117.53" x2="663.04" y2="124.79" stroke="#555" stroke-width="0.9"/>
<line x1="661.24" y1="117.53" x2="664.84" y2="117.53" stroke="#555" stroke-width="0.9"/>
<line x1="661.24" y1="124.79" x2="664.84" y2="124.79" stroke="#555" stroke-width="0.9"/>
<text x="665.44" y="144.70" font-size="9.75" text-anchor="end" font-weight="normal" font-style="italic" fill="#000" transform="rotate(-90 665.44 144.70)" stroke="#000" stroke-width="0.15">RPL4A</text>
<rect x="672.86" y="122.19" width="4.90" height="16.21" fill="#7f7f7f" stroke="none" stroke-width="0"/>
<line x1="675.31" y1="118.56" x2="675.31" y2="125.82" stroke="#555" stroke-width="0.9"/>
<line x1="673.51" y1="118.56" x2="677.11" y2="118.56" stroke="#555" stroke-width="0.9"/>
<line x1="673.51" y1="125.82" x2="677.11" y2="125.82" stroke="#555" stroke-width="0.9"/>
<text x="677.71" y="144.70" font-size="9.75" text-anchor="end" font-weight="normal" font-style="italic" fill="#000" transform="rotate(-90 677.71 144.70)" stroke="#000" stroke-width="0.15">RPL8B</text>
<rect x="685.12" y="125.15" width="4.90" height="13.25" fill="#7f7f7f" stroke="none" stroke-width="0"/>
<line x1="687.58" y1="121.22" x2="687.58" y2="129.08" stroke="#555" stroke-width="0.9"/>
<line x1="685.78" y1="121.22" x2="689.38" y2="121.22" stroke="#555" stroke-width="0.9"/>
<line x1="685.78" y1="129.08" x2="689.38" y2="129.08" stroke="#555" stroke-width="0.9"/>
<text x="689.98" y="144.70" font-size="9.75" text-anchor="end" font-weight="normal" font-style="italic" fill="#000" transform="rotate(-90 689.98 144.70)" stroke="#000" stroke-width="0.15">SSB1</text>
<rect x="697.39" y="130.11" width="4.90" height="8.29" fill="#7f7f7f" stroke="none" stroke-width="0"/>
<line x1="699.85" y1="127.39" x2="699.85" y2="132.83" stroke="#555" stroke-width="0.9"/>
<line x1="698.05" y1="127.39" x2="701.64" y2="127.39" stroke="#555" stroke-width="0.9"/>
<line x1="698.05" y1="132.83" x2="701.64" y2="132.83" stroke="#555" stroke-width="0.9"/>
<text x="702.25" y="144.70" font-size="9.75" text-anchor="end" font-weight="normal" font-style="italic" fill="#000" transform="rotate(-90 702.25 144.70)" stroke="#000" stroke-width="0.15">SSA1</text>
<rect x="709.66" y="131.87" width="4.90" height="6.53" fill="#7f7f7f" stroke="none" stroke-width="0"/>
<line x1="712.12" y1="127.63" x2="712.12" y2="136.10" stroke="#555" stroke-width="0.9"/>
<line x1="710.32" y1="127.63" x2="713.91" y2="127.63" stroke="#555" stroke-width="0.9"/>
<line x1="710.32" y1="136.10" x2="713.91" y2="136.10" stroke="#555" stroke-width="0.9"/>
<text x="714.51" y="144.70" font-size="9.75" text-anchor="end" font-weight="normal" font-style="italic" fill="#000" transform="rotate(-90 714.51 144.70)" stroke="#000" stroke-width="0.15">GAL1</text>
<rect x="721.94" y="137.37" width="4.90" height="1.03" fill="#7f7f7f" stroke="none" stroke-width="0"/>
<line x1="724.39" y1="135.13" x2="724.39" y2="138.40" stroke="#555" stroke-width="0.9"/>
<line x1="722.59" y1="135.13" x2="726.19" y2="135.13" stroke="#555" stroke-width="0.9"/>
<text x="726.79" y="144.70" font-size="9.75" text-anchor="end" font-weight="normal" font-style="italic" fill="#000" transform="rotate(-90 726.79 144.70)" stroke="#000" stroke-width="0.15">GAL10</text>
<rect x="734.21" y="120.19" width="4.90" height="18.21" fill="#7f7f7f" stroke="none" stroke-width="0"/>
<line x1="736.66" y1="117.47" x2="736.66" y2="122.91" stroke="#555" stroke-width="0.9"/>
<line x1="734.86" y1="117.47" x2="738.46" y2="117.47" stroke="#555" stroke-width="0.9"/>
<line x1="734.86" y1="122.91" x2="738.46" y2="122.91" stroke="#555" stroke-width="0.9"/>
<text x="739.06" y="144.70" font-size="9.75" text-anchor="end" font-weight="normal" font-style="italic" fill="#000" transform="rotate(-90 739.06 144.70)" stroke="#000" stroke-width="0.15">PDA1</text>
<rect x="746.48" y="129.87" width="4.90" height="8.53" fill="#7f7f7f" stroke="none" stroke-width="0"/>
<line x1="748.93" y1="125.39" x2="748.93" y2="134.35" stroke="#555" stroke-width="0.9"/>
<line x1="747.13" y1="125.39" x2="750.73" y2="125.39" stroke="#555" stroke-width="0.9"/>
<line x1="747.13" y1="134.35" x2="750.73" y2="134.35" stroke="#555" stroke-width="0.9"/>
<text x="751.33" y="144.70" font-size="9.75" text-anchor="end" font-weight="normal" font-style="italic" fill="#000" transform="rotate(-90 751.33 144.70)" stroke="#000" stroke-width="0.15">CYC1</text>
<polygon points="713.30,121.40 713.95,123.41 716.06,123.40 714.35,124.64 715.00,126.65 713.30,125.40 711.60,126.65 712.25,124.64 710.54,123.40 712.65,123.41" fill="#111"/>
<polygon points="724.40,128.10 725.05,130.11 727.16,130.10 725.45,131.34 726.10,133.35 724.40,132.10 722.70,133.35 723.35,131.34 721.64,130.10 723.75,130.11" fill="#111"/>
<polygon points="748.60,115.90 749.25,117.91 751.36,117.90 749.65,119.14 750.30,121.15 748.60,119.90 746.90,121.15 747.55,119.14 745.84,117.90 747.95,117.91" fill="#111"/>
<text x="505.40" y="157.00" font-size="18.5" text-anchor="start" font-weight="bold" font-style="normal" fill="#000">c</text>
<text x="500.20" y="79.80" font-size="8.65" text-anchor="middle" font-weight="bold" font-style="normal" fill="#000" transform="rotate(-90 500.20 79.80)">Realative GFP fluorescence</text>
<text x="510.00" y="78.80" font-size="8.65" text-anchor="middle" font-weight="bold" font-style="normal" fill="#000" transform="rotate(-90 510.00 78.80)">(%Auto-fluorescence)</text>
<line x1="52.40" y1="210.40" x2="52.40" y2="357.20" stroke="#7c7c7c" stroke-width="1"/>
<line x1="52.40" y1="357.20" x2="760.00" y2="357.20" stroke="#7c7c7c" stroke-width="1"/>
<line x1="52.40" y1="357.20" x2="52.40" y2="359.70" stroke="#7c7c7c" stroke-width="1"/>
<line x1="89.64" y1="357.20" x2="89.64" y2="359.70" stroke="#7c7c7c" stroke-width="1"/>
<line x1="126.88" y1="357.20" x2="126.88" y2="359.70" stroke="#7c7c7c" stroke-width="1"/>
<line x1="164.13" y1="357.20" x2="164.13" y2="359.70" stroke="#7c7c7c" stroke-width="1"/>
<line x1="201.37" y1="357.20" x2="201.37" y2="359.70" stroke="#7c7c7c" stroke-width="1"/>
<line x1="238.61" y1="357.20" x2="238.61" y2="359.70" stroke="#7c7c7c" stroke-width="1"/>
<line x1="275.85" y1="357.20" x2="275.85" y2="359.70" stroke="#7c7c7c" stroke-width="1"/>
<line x1="313.09" y1="357.20" x2="313.09" y2="359.70" stroke="#7c7c7c" stroke-width="1"/>
<line x1="350.34" y1="357.20" x2="350.34" y2="359.70" stroke="#7c7c7c" stroke-width="1"/>
<line x1="387.58" y1="357.20" x2="387.58" y2="359.70" stroke="#7c7c7c" stroke-width="1"/>
<line x1="424.82" y1="357.20" x2="424.82" y2="359.70" stroke="#7c7c7c" stroke-width="1"/>
<line x1="462.06" y1="357.20" x2="462.06" y2="359.70" stroke="#7c7c7c" stroke-width="1"/>
<line x1="499.31" y1="357.20" x2="499.31" y2="359.70" stroke="#7c7c7c" stroke-width="1"/>
<line x1="536.55" y1="357.20" x2="536.55" y2="359.70" stroke="#7c7c7c" stroke-width="1"/>
<line x1="573.79" y1="357.20" x2="573.79" y2="359.70" stroke="#7c7c7c" stroke-width="1"/>
<line x1="611.03" y1="357.20" x2="611.03" y2="359.70" stroke="#7c7c7c" stroke-width="1"/>
<line x1="648.27" y1="357.20" x2="648.27" y2="359.70" stroke="#7c7c7c" stroke-width="1"/>
<line x1="685.52" y1="357.20" x2="685.52" y2="359.70" stroke="#7c7c7c" stroke-width="1"/>
<line x1="722.76" y1="357.20" x2="722.76" y2="359.70" stroke="#7c7c7c" stroke-width="1"/>
<line x1="760.00" y1="357.20" x2="760.00" y2="359.70" stroke="#7c7c7c" stroke-width="1"/>
<line x1="50.10" y1="357.20" x2="52.40" y2="357.20" stroke="#7c7c7c" stroke-width="1"/>
<text x="45.40" y="359.90" font-size="8.15" text-anchor="end" font-weight="normal" font-style="normal" fill="#111">0</text>
<line x1="50.10" y1="329.20" x2="52.40" y2="329.20" stroke="#7c7c7c" stroke-width="1"/>
<text x="45.40" y="331.90" font-size="8.15" text-anchor="end" font-weight="normal" font-style="normal" fill="#111">2000</text>
<line x1="50.10" y1="301.20" x2="52.40" y2="301.20" stroke="#7c7c7c" stroke-width="1"/>
<text x="45.40" y="303.90" font-size="8.15" text-anchor="end" font-weight="normal" font-style="normal" fill="#111">4000</text>
<line x1="50.10" y1="273.20" x2="52.40" y2="273.20" stroke="#7c7c7c" stroke-width="1"/>
<text x="45.40" y="275.90" font-size="8.15" text-anchor="end" font-weight="normal" font-style="normal" fill="#111">6000</text>
<line x1="50.10" y1="245.20" x2="52.40" y2="245.20" stroke="#7c7c7c" stroke-width="1"/>
<text x="45.40" y="247.90" font-size="8.15" text-anchor="end" font-weight="normal" font-style="normal" fill="#111">8000</text>
<line x1="50.10" y1="217.20" x2="52.40" y2="217.20" stroke="#7c7c7c" stroke-width="1"/>
<text x="45.40" y="219.90" font-size="8.15" text-anchor="end" font-weight="normal" font-style="normal" fill="#111">10000</text>
<rect x="55.55" y="303.71" width="3.90" height="53.49" fill="url(#p1)" stroke="#111" stroke-width="0.6"/>
<line x1="57.50" y1="302.31" x2="57.50" y2="305.11" stroke="#5a5a5a" stroke-width="0.7"/>
<line x1="56.20" y1="302.31" x2="58.80" y2="302.31" stroke="#5a5a5a" stroke-width="0.7"/>
<line x1="56.20" y1="305.11" x2="58.80" y2="305.11" stroke="#5a5a5a" stroke-width="0.7"/>
<rect x="60.05" y="298.20" width="3.90" height="59.00" fill="url(#p2)" stroke="#222" stroke-width="0.6"/>
<line x1="62.00" y1="296.80" x2="62.00" y2="299.60" stroke="#5a5a5a" stroke-width="0.7"/>
<line x1="60.70" y1="296.80" x2="63.30" y2="296.80" stroke="#5a5a5a" stroke-width="0.7"/>
<line x1="60.70" y1="299.60" x2="63.30" y2="299.60" stroke="#5a5a5a" stroke-width="0.7"/>
<rect x="64.55" y="302.40" width="3.90" height="54.80" fill="url(#p3)" stroke="#555" stroke-width="0.6"/>
<line x1="66.50" y1="300.30" x2="66.50" y2="304.50" stroke="#5a5a5a" stroke-width="0.7"/>
<line x1="65.20" y1="300.30" x2="67.80" y2="300.30" stroke="#5a5a5a" stroke-width="0.7"/>
<line x1="65.20" y1="304.50" x2="67.80" y2="304.50" stroke="#5a5a5a" stroke-width="0.7"/>
<rect x="69.05" y="303.71" width="3.90" height="53.49" fill="url(#p4)" stroke="#777" stroke-width="0.6"/>
<line x1="71.00" y1="300.91" x2="71.00" y2="306.51" stroke="#5a5a5a" stroke-width="0.7"/>
<line x1="69.70" y1="300.91" x2="72.30" y2="300.91" stroke="#5a5a5a" stroke-width="0.7"/>
<line x1="69.70" y1="306.51" x2="72.30" y2="306.51" stroke="#5a5a5a" stroke-width="0.7"/>
<rect x="73.55" y="322.40" width="3.90" height="34.80" fill="#fff" stroke="#2a2a2a" stroke-width="0.6"/>
<line x1="75.50" y1="321.00" x2="75.50" y2="323.80" stroke="#5a5a5a" stroke-width="0.7"/>
<line x1="74.20" y1="321.00" x2="76.80" y2="321.00" stroke="#5a5a5a" stroke-width="0.7"/>
<line x1="74.20" y1="323.80" x2="76.80" y2="323.80" stroke="#5a5a5a" stroke-width="0.7"/>
<rect x="78.05" y="337.00" width="3.90" height="20.20" fill="#c9c9c9" stroke="#4a4a4a" stroke-width="0.6"/>
<line x1="80.00" y1="336.30" x2="80.00" y2="337.70" stroke="#5a5a5a" stroke-width="0.7"/>
<line x1="78.70" y1="336.30" x2="81.30" y2="336.30" stroke="#5a5a5a" stroke-width="0.7"/>
<line x1="78.70" y1="337.70" x2="81.30" y2="337.70" stroke="#5a5a5a" stroke-width="0.7"/>
<rect x="82.55" y="348.90" width="3.90" height="8.30" fill="#000" stroke="#000" stroke-width="0.6"/>
<line x1="84.50" y1="348.20" x2="84.50" y2="348.90" stroke="#5a5a5a" stroke-width="0.7"/>
<line x1="83.20" y1="348.20" x2="85.80" y2="348.20" stroke="#5a5a5a" stroke-width="0.7"/>
<text x="70.20" y="369.20" font-size="8.0" text-anchor="middle" font-weight="normal" font-style="italic" fill="#000" stroke="#000" stroke-width="0.15">PGK1</text>
<rect x="92.79" y="268.10" width="3.90" height="89.10" fill="url(#p1)" stroke="#111" stroke-width="0.6"/>
<line x1="94.74" y1="266.00" x2="94.74" y2="270.20" stroke="#5a5a5a" stroke-width="0.7"/>
<line x1="93.44" y1="266.00" x2="96.04" y2="266.00" stroke="#5a5a5a" stroke-width="0.7"/>
<line x1="93.44" y1="270.20" x2="96.04" y2="270.20" stroke="#5a5a5a" stroke-width="0.7"/>
<rect x="97.29" y="252.90" width="3.90" height="104.30" fill="url(#p2)" stroke="#222" stroke-width="0.6"/>
<line x1="99.24" y1="251.50" x2="99.24" y2="254.30" stroke="#5a5a5a" stroke-width="0.7"/>
<line x1="97.94" y1="251.50" x2="100.54" y2="251.50" stroke="#5a5a5a" stroke-width="0.7"/>
<line x1="97.94" y1="254.30" x2="100.54" y2="254.30" stroke="#5a5a5a" stroke-width="0.7"/>
<rect x="101.79" y="259.40" width="3.90" height="97.80" fill="url(#p3)" stroke="#555" stroke-width="0.6"/>
<line x1="103.74" y1="258.00" x2="103.74" y2="260.80" stroke="#5a5a5a" stroke-width="0.7"/>
<line x1="102.44" y1="258.00" x2="105.04" y2="258.00" stroke="#5a5a5a" stroke-width="0.7"/>
<line x1="102.44" y1="260.80" x2="105.04" y2="260.80" stroke="#5a5a5a" stroke-width="0.7"/>
<rect x="106.29" y="255.50" width="3.90" height="101.70" fill="url(#p4)" stroke="#777" stroke-width="0.6"/>
<line x1="108.24" y1="254.80" x2="108.24" y2="256.20" stroke="#5a5a5a" stroke-width="0.7"/>
<line x1="106.94" y1="254.80" x2="109.54" y2="254.80" stroke="#5a5a5a" stroke-width="0.7"/>
<line x1="106.94" y1="256.20" x2="109.54" y2="256.20" stroke="#5a5a5a" stroke-width="0.7"/>
<rect x="110.79" y="290.70" width="3.90" height="66.50" fill="#fff" stroke="#2a2a2a" stroke-width="0.6"/>
<rect x="115.29" y="318.50" width="3.90" height="38.70" fill="#c9c9c9" stroke="#4a4a4a" stroke-width="0.6"/>
<line x1="117.24" y1="315.70" x2="117.24" y2="321.30" stroke="#5a5a5a" stroke-width="0.7"/>
<line x1="115.94" y1="315.70" x2="118.54" y2="315.70" stroke="#5a5a5a" stroke-width="0.7"/>
<line x1="115.94" y1="321.30" x2="118.54" y2="321.30" stroke="#5a5a5a" stroke-width="0.7"/>
<rect x="119.79" y="342.79" width="3.90" height="14.41" fill="#000" stroke="#000" stroke-width="0.6"/>
<line x1="121.74" y1="341.67" x2="121.74" y2="342.79" stroke="#5a5a5a" stroke-width="0.7"/>
<line x1="120.44" y1="341.67" x2="123.04" y2="341.67" stroke="#5a5a5a" stroke-width="0.7"/>
<text x="107.48" y="369.20" font-size="8.0" text-anchor="middle" font-weight="normal" font-style="italic" fill="#000" stroke="#000" stroke-width="0.15">TDH3</text>
<rect x="130.03" y="309.50" width="3.90" height="47.70" fill="url(#p1)" stroke="#111" stroke-width="0.6"/>
<line x1="131.98" y1="306.00" x2="131.98" y2="313.00" stroke="#5a5a5a" stroke-width="0.7"/>
<line x1="130.68" y1="306.00" x2="133.28" y2="306.00" stroke="#5a5a5a" stroke-width="0.7"/>
<line x1="130.68" y1="313.00" x2="133.28" y2="313.00" stroke="#5a5a5a" stroke-width="0.7"/>
<rect x="134.53" y="299.80" width="3.90" height="57.40" fill="url(#p2)" stroke="#222" stroke-width="0.6"/>
<line x1="136.48" y1="297.00" x2="136.48" y2="302.60" stroke="#5a5a5a" stroke-width="0.7"/>
<line x1="135.18" y1="297.00" x2="137.78" y2="297.00" stroke="#5a5a5a" stroke-width="0.7"/>
<line x1="135.18" y1="302.60" x2="137.78" y2="302.60" stroke="#5a5a5a" stroke-width="0.7"/>
<rect x="139.03" y="303.71" width="3.90" height="53.49" fill="url(#p3)" stroke="#555" stroke-width="0.6"/>
<line x1="140.98" y1="300.21" x2="140.98" y2="307.21" stroke="#5a5a5a" stroke-width="0.7"/>
<line x1="139.68" y1="300.21" x2="142.28" y2="300.21" stroke="#5a5a5a" stroke-width="0.7"/>
<line x1="139.68" y1="307.21" x2="142.28" y2="307.21" stroke="#5a5a5a" stroke-width="0.7"/>
<rect x="143.53" y="296.59" width="3.90" height="60.61" fill="url(#p4)" stroke="#777" stroke-width="0.6"/>
<line x1="145.48" y1="295.19" x2="145.48" y2="297.99" stroke="#5a5a5a" stroke-width="0.7"/>
<line x1="144.18" y1="295.19" x2="146.78" y2="295.19" stroke="#5a5a5a" stroke-width="0.7"/>
<line x1="144.18" y1="297.99" x2="146.78" y2="297.99" stroke="#5a5a5a" stroke-width="0.7"/>
<rect x="148.03" y="302.10" width="3.90" height="55.10" fill="#fff" stroke="#2a2a2a" stroke-width="0.6"/>
<line x1="149.98" y1="300.00" x2="149.98" y2="304.20" stroke="#5a5a5a" stroke-width="0.7"/>
<line x1="148.68" y1="300.00" x2="151.28" y2="300.00" stroke="#5a5a5a" stroke-width="0.7"/>
<line x1="148.68" y1="304.20" x2="151.28" y2="304.20" stroke="#5a5a5a" stroke-width="0.7"/>
<rect x="152.53" y="315.00" width="3.90" height="42.20" fill="#c9c9c9" stroke="#4a4a4a" stroke-width="0.6"/>
<line x1="154.48" y1="313.60" x2="154.48" y2="316.40" stroke="#5a5a5a" stroke-width="0.7"/>
<line x1="153.18" y1="313.60" x2="155.78" y2="313.60" stroke="#5a5a5a" stroke-width="0.7"/>
<line x1="153.18" y1="316.40" x2="155.78" y2="316.40" stroke="#5a5a5a" stroke-width="0.7"/>
<rect x="157.03" y="319.20" width="3.90" height="38.00" fill="#000" stroke="#000" stroke-width="0.6"/>
<line x1="158.98" y1="316.40" x2="158.98" y2="319.20" stroke="#5a5a5a" stroke-width="0.7"/>
<line x1="157.68" y1="316.40" x2="160.28" y2="316.40" stroke="#5a5a5a" stroke-width="0.7"/>
<text x="144.76" y="369.20" font-size="8.0" text-anchor="middle" font-weight="normal" font-style="italic" fill="#000" stroke="#000" stroke-width="0.15">TEF1</text>
<rect x="167.28" y="305.30" width="3.90" height="51.90" fill="url(#p1)" stroke="#111" stroke-width="0.6"/>
<line x1="169.23" y1="301.80" x2="169.23" y2="308.80" stroke="#5a5a5a" stroke-width="0.7"/>
<line x1="167.93" y1="301.80" x2="170.53" y2="301.80" stroke="#5a5a5a" stroke-width="0.7"/>
<line x1="167.93" y1="308.80" x2="170.53" y2="308.80" stroke="#5a5a5a" stroke-width="0.7"/>
<rect x="171.78" y="292.70" width="3.90" height="64.50" fill="url(#p2)" stroke="#222" stroke-width="0.6"/>
<line x1="173.73" y1="290.60" x2="173.73" y2="294.80" stroke="#5a5a5a" stroke-width="0.7"/>
<line x1="172.43" y1="290.60" x2="175.03" y2="290.60" stroke="#5a5a5a" stroke-width="0.7"/>
<line x1="172.43" y1="294.80" x2="175.03" y2="294.80" stroke="#5a5a5a" stroke-width="0.7"/>
<rect x="176.28" y="299.10" width="3.90" height="58.10" fill="url(#p3)" stroke="#555" stroke-width="0.6"/>
<line x1="178.23" y1="297.70" x2="178.23" y2="300.50" stroke="#5a5a5a" stroke-width="0.7"/>
<line x1="176.93" y1="297.70" x2="179.53" y2="297.70" stroke="#5a5a5a" stroke-width="0.7"/>
<line x1="176.93" y1="300.50" x2="179.53" y2="300.50" stroke="#5a5a5a" stroke-width="0.7"/>
<rect x="180.78" y="291.69" width="3.90" height="65.51" fill="url(#p4)" stroke="#777" stroke-width="0.6"/>
<line x1="182.73" y1="290.29" x2="182.73" y2="293.09" stroke="#5a5a5a" stroke-width="0.7"/>
<line x1="181.43" y1="290.29" x2="184.03" y2="290.29" stroke="#5a5a5a" stroke-width="0.7"/>
<line x1="181.43" y1="293.09" x2="184.03" y2="293.09" stroke="#5a5a5a" stroke-width="0.7"/>
<rect x="185.28" y="296.59" width="3.90" height="60.61" fill="#fff" stroke="#2a2a2a" stroke-width="0.6"/>
<line x1="187.23" y1="295.89" x2="187.23" y2="297.29" stroke="#5a5a5a" stroke-width="0.7"/>
<line x1="185.93" y1="295.89" x2="188.53" y2="295.89" stroke="#5a5a5a" stroke-width="0.7"/>
<line x1="185.93" y1="297.29" x2="188.53" y2="297.29" stroke="#5a5a5a" stroke-width="0.7"/>
<rect x="189.78" y="309.50" width="3.90" height="47.70" fill="#c9c9c9" stroke="#4a4a4a" stroke-width="0.6"/>
<line x1="191.73" y1="308.38" x2="191.73" y2="310.62" stroke="#5a5a5a" stroke-width="0.7"/>
<line x1="190.43" y1="308.38" x2="193.03" y2="308.38" stroke="#5a5a5a" stroke-width="0.7"/>
<line x1="190.43" y1="310.62" x2="193.03" y2="310.62" stroke="#5a5a5a" stroke-width="0.7"/>
<rect x="194.28" y="312.69" width="3.90" height="44.51" fill="#000" stroke="#000" stroke-width="0.6"/>
<line x1="196.23" y1="309.89" x2="196.23" y2="312.69" stroke="#5a5a5a" stroke-width="0.7"/>
<line x1="194.93" y1="309.89" x2="197.53" y2="309.89" stroke="#5a5a5a" stroke-width="0.7"/>
<text x="182.04" y="369.20" font-size="8.0" text-anchor="middle" font-weight="normal" font-style="italic" fill="#000" stroke="#000" stroke-width="0.15">TEF1-M</text>
<rect x="204.52" y="315.61" width="3.90" height="41.59" fill="url(#p1)" stroke="#111" stroke-width="0.6"/>
<line x1="206.47" y1="314.91" x2="206.47" y2="316.31" stroke="#5a5a5a" stroke-width="0.7"/>
<line x1="205.17" y1="314.91" x2="207.77" y2="314.91" stroke="#5a5a5a" stroke-width="0.7"/>
<line x1="205.17" y1="316.31" x2="207.77" y2="316.31" stroke="#5a5a5a" stroke-width="0.7"/>
<rect x="209.02" y="308.70" width="3.90" height="48.50" fill="url(#p2)" stroke="#222" stroke-width="0.6"/>
<line x1="210.97" y1="307.58" x2="210.97" y2="309.82" stroke="#5a5a5a" stroke-width="0.7"/>
<line x1="209.67" y1="307.58" x2="212.27" y2="307.58" stroke="#5a5a5a" stroke-width="0.7"/>
<line x1="209.67" y1="309.82" x2="212.27" y2="309.82" stroke="#5a5a5a" stroke-width="0.7"/>
<rect x="213.52" y="310.20" width="3.90" height="47.00" fill="url(#p3)" stroke="#555" stroke-width="0.6"/>
<line x1="215.47" y1="309.50" x2="215.47" y2="310.90" stroke="#5a5a5a" stroke-width="0.7"/>
<line x1="214.17" y1="309.50" x2="216.77" y2="309.50" stroke="#5a5a5a" stroke-width="0.7"/>
<line x1="214.17" y1="310.90" x2="216.77" y2="310.90" stroke="#5a5a5a" stroke-width="0.7"/>
<rect x="218.02" y="306.30" width="3.90" height="50.90" fill="url(#p4)" stroke="#777" stroke-width="0.6"/>
<line x1="219.97" y1="305.60" x2="219.97" y2="307.00" stroke="#5a5a5a" stroke-width="0.7"/>
<line x1="218.67" y1="305.60" x2="221.27" y2="305.60" stroke="#5a5a5a" stroke-width="0.7"/>
<line x1="218.67" y1="307.00" x2="221.27" y2="307.00" stroke="#5a5a5a" stroke-width="0.7"/>
<rect x="222.52" y="309.10" width="3.90" height="48.10" fill="#fff" stroke="#2a2a2a" stroke-width="0.6"/>
<line x1="224.47" y1="308.40" x2="224.47" y2="309.80" stroke="#5a5a5a" stroke-width="0.7"/>
<line x1="223.17" y1="308.40" x2="225.77" y2="308.40" stroke="#5a5a5a" stroke-width="0.7"/>
<line x1="223.17" y1="309.80" x2="225.77" y2="309.80" stroke="#5a5a5a" stroke-width="0.7"/>
<rect x="227.02" y="315.10" width="3.90" height="42.10" fill="#c9c9c9" stroke="#4a4a4a" stroke-width="0.6"/>
<line x1="228.97" y1="314.40" x2="228.97" y2="315.80" stroke="#5a5a5a" stroke-width="0.7"/>
<line x1="227.67" y1="314.40" x2="230.27" y2="314.40" stroke="#5a5a5a" stroke-width="0.7"/>
<line x1="227.67" y1="315.80" x2="230.27" y2="315.80" stroke="#5a5a5a" stroke-width="0.7"/>
<rect x="231.52" y="316.19" width="3.90" height="41.01" fill="#000" stroke="#000" stroke-width="0.6"/>
<line x1="233.47" y1="315.49" x2="233.47" y2="316.19" stroke="#5a5a5a" stroke-width="0.7"/>
<line x1="232.17" y1="315.49" x2="234.77" y2="315.49" stroke="#5a5a5a" stroke-width="0.7"/>
<text x="219.32" y="369.20" font-size="8.0" text-anchor="middle" font-weight="normal" font-style="italic" fill="#000" stroke="#000" stroke-width="0.15">TEF2</text>
<rect x="241.76" y="328.50" width="3.90" height="28.70" fill="url(#p1)" stroke="#111" stroke-width="0.6"/>
<line x1="243.71" y1="327.80" x2="243.71" y2="329.20" stroke="#5a5a5a" stroke-width="0.7"/>
<line x1="242.41" y1="327.80" x2="245.01" y2="327.80" stroke="#5a5a5a" stroke-width="0.7"/>
<line x1="242.41" y1="329.20" x2="245.01" y2="329.20" stroke="#5a5a5a" stroke-width="0.7"/>
<rect x="246.26" y="325.29" width="3.90" height="31.91" fill="url(#p2)" stroke="#222" stroke-width="0.6"/>
<line x1="248.21" y1="324.59" x2="248.21" y2="325.99" stroke="#5a5a5a" stroke-width="0.7"/>
<line x1="246.91" y1="324.59" x2="249.51" y2="324.59" stroke="#5a5a5a" stroke-width="0.7"/>
<line x1="246.91" y1="325.99" x2="249.51" y2="325.99" stroke="#5a5a5a" stroke-width="0.7"/>
<rect x="250.76" y="326.81" width="3.90" height="30.39" fill="url(#p3)" stroke="#555" stroke-width="0.6"/>
<line x1="252.71" y1="325.69" x2="252.71" y2="327.93" stroke="#5a5a5a" stroke-width="0.7"/>
<line x1="251.41" y1="325.69" x2="254.01" y2="325.69" stroke="#5a5a5a" stroke-width="0.7"/>
<line x1="251.41" y1="327.93" x2="254.01" y2="327.93" stroke="#5a5a5a" stroke-width="0.7"/>
<rect x="255.26" y="324.20" width="3.90" height="33.00" fill="url(#p4)" stroke="#777" stroke-width="0.6"/>
<line x1="257.21" y1="323.50" x2="257.21" y2="324.90" stroke="#5a5a5a" stroke-width="0.7"/>
<line x1="255.91" y1="323.50" x2="258.51" y2="323.50" stroke="#5a5a5a" stroke-width="0.7"/>
<line x1="255.91" y1="324.90" x2="258.51" y2="324.90" stroke="#5a5a5a" stroke-width="0.7"/>
<rect x="259.76" y="325.90" width="3.90" height="31.30" fill="#fff" stroke="#2a2a2a" stroke-width="0.6"/>
<line x1="261.71" y1="325.20" x2="261.71" y2="326.60" stroke="#5a5a5a" stroke-width="0.7"/>
<line x1="260.41" y1="325.20" x2="263.01" y2="325.20" stroke="#5a5a5a" stroke-width="0.7"/>
<line x1="260.41" y1="326.60" x2="263.01" y2="326.60" stroke="#5a5a5a" stroke-width="0.7"/>
<rect x="264.26" y="335.40" width="3.90" height="21.80" fill="#c9c9c9" stroke="#4a4a4a" stroke-width="0.6"/>
<line x1="266.21" y1="334.70" x2="266.21" y2="336.10" stroke="#5a5a5a" stroke-width="0.7"/>
<line x1="264.91" y1="334.70" x2="267.51" y2="334.70" stroke="#5a5a5a" stroke-width="0.7"/>
<line x1="264.91" y1="336.10" x2="267.51" y2="336.10" stroke="#5a5a5a" stroke-width="0.7"/>
<rect x="268.76" y="345.30" width="3.90" height="11.90" fill="#000" stroke="#000" stroke-width="0.6"/>
<line x1="270.71" y1="342.50" x2="270.71" y2="345.30" stroke="#5a5a5a" stroke-width="0.7"/>
<line x1="269.41" y1="342.50" x2="272.01" y2="342.50" stroke="#5a5a5a" stroke-width="0.7"/>
<text x="256.60" y="369.20" font-size="8.0" text-anchor="middle" font-weight="normal" font-style="italic" fill="#000" stroke="#000" stroke-width="0.15">YEF3</text>
<rect x="279.00" y="319.90" width="3.90" height="37.30" fill="url(#p1)" stroke="#111" stroke-width="0.6"/>
<line x1="280.95" y1="319.20" x2="280.95" y2="320.60" stroke="#5a5a5a" stroke-width="0.7"/>
<line x1="279.65" y1="319.20" x2="282.25" y2="319.20" stroke="#5a5a5a" stroke-width="0.7"/>
<line x1="279.65" y1="320.60" x2="282.25" y2="320.60" stroke="#5a5a5a" stroke-width="0.7"/>
<rect x="283.50" y="314.09" width="3.90" height="43.11" fill="url(#p2)" stroke="#222" stroke-width="0.6"/>
<line x1="285.45" y1="313.39" x2="285.45" y2="314.79" stroke="#5a5a5a" stroke-width="0.7"/>
<line x1="284.15" y1="313.39" x2="286.75" y2="313.39" stroke="#5a5a5a" stroke-width="0.7"/>
<line x1="284.15" y1="314.79" x2="286.75" y2="314.79" stroke="#5a5a5a" stroke-width="0.7"/>
<rect x="288.00" y="315.10" width="3.90" height="42.10" fill="url(#p3)" stroke="#555" stroke-width="0.6"/>
<line x1="289.95" y1="314.40" x2="289.95" y2="315.80" stroke="#5a5a5a" stroke-width="0.7"/>
<line x1="288.65" y1="314.40" x2="291.25" y2="314.40" stroke="#5a5a5a" stroke-width="0.7"/>
<line x1="288.65" y1="315.80" x2="291.25" y2="315.80" stroke="#5a5a5a" stroke-width="0.7"/>
<rect x="292.50" y="311.90" width="3.90" height="45.30" fill="url(#p4)" stroke="#777" stroke-width="0.6"/>
<line x1="294.45" y1="311.20" x2="294.45" y2="312.60" stroke="#5a5a5a" stroke-width="0.7"/>
<line x1="293.15" y1="311.20" x2="295.75" y2="311.20" stroke="#5a5a5a" stroke-width="0.7"/>
<line x1="293.15" y1="312.60" x2="295.75" y2="312.60" stroke="#5a5a5a" stroke-width="0.7"/>
<rect x="297.00" y="313.00" width="3.90" height="44.20" fill="#fff" stroke="#2a2a2a" stroke-width="0.6"/>
<line x1="298.95" y1="312.30" x2="298.95" y2="313.70" stroke="#5a5a5a" stroke-width="0.7"/>
<line x1="297.65" y1="312.30" x2="300.25" y2="312.30" stroke="#5a5a5a" stroke-width="0.7"/>
<line x1="297.65" y1="313.70" x2="300.25" y2="313.70" stroke="#5a5a5a" stroke-width="0.7"/>
<rect x="301.50" y="323.10" width="3.90" height="34.10" fill="#c9c9c9" stroke="#4a4a4a" stroke-width="0.6"/>
<line x1="303.45" y1="321.98" x2="303.45" y2="324.22" stroke="#5a5a5a" stroke-width="0.7"/>
<line x1="302.15" y1="321.98" x2="304.75" y2="321.98" stroke="#5a5a5a" stroke-width="0.7"/>
<line x1="302.15" y1="324.22" x2="304.75" y2="324.22" stroke="#5a5a5a" stroke-width="0.7"/>
<rect x="306.00" y="342.50" width="3.90" height="14.70" fill="#000" stroke="#000" stroke-width="0.6"/>
<line x1="307.95" y1="340.40" x2="307.95" y2="342.50" stroke="#5a5a5a" stroke-width="0.7"/>
<line x1="306.65" y1="340.40" x2="309.25" y2="340.40" stroke="#5a5a5a" stroke-width="0.7"/>
<text x="293.88" y="369.20" font-size="8.0" text-anchor="middle" font-weight="normal" font-style="italic" fill="#000" stroke="#000" stroke-width="0.15">RPL3</text>
<rect x="316.24" y="326.40" width="3.90" height="30.80" fill="url(#p1)" stroke="#111" stroke-width="0.6"/>
<line x1="318.19" y1="325.28" x2="318.19" y2="327.52" stroke="#5a5a5a" stroke-width="0.7"/>
<line x1="316.89" y1="325.28" x2="319.49" y2="325.28" stroke="#5a5a5a" stroke-width="0.7"/>
<line x1="316.89" y1="327.52" x2="319.49" y2="327.52" stroke="#5a5a5a" stroke-width="0.7"/>
<rect x="320.74" y="319.90" width="3.90" height="37.30" fill="url(#p2)" stroke="#222" stroke-width="0.6"/>
<line x1="322.69" y1="318.78" x2="322.69" y2="321.02" stroke="#5a5a5a" stroke-width="0.7"/>
<line x1="321.39" y1="318.78" x2="323.99" y2="318.78" stroke="#5a5a5a" stroke-width="0.7"/>
<line x1="321.39" y1="321.02" x2="323.99" y2="321.02" stroke="#5a5a5a" stroke-width="0.7"/>
<rect x="325.24" y="322.00" width="3.90" height="35.20" fill="url(#p3)" stroke="#555" stroke-width="0.6"/>
<line x1="327.19" y1="321.30" x2="327.19" y2="322.70" stroke="#5a5a5a" stroke-width="0.7"/>
<line x1="325.89" y1="321.30" x2="328.49" y2="321.30" stroke="#5a5a5a" stroke-width="0.7"/>
<line x1="325.89" y1="322.70" x2="328.49" y2="322.70" stroke="#5a5a5a" stroke-width="0.7"/>
<rect x="329.74" y="318.80" width="3.90" height="38.40" fill="url(#p4)" stroke="#777" stroke-width="0.6"/>
<line x1="331.69" y1="318.10" x2="331.69" y2="319.50" stroke="#5a5a5a" stroke-width="0.7"/>
<line x1="330.39" y1="318.10" x2="332.99" y2="318.10" stroke="#5a5a5a" stroke-width="0.7"/>
<line x1="330.39" y1="319.50" x2="332.99" y2="319.50" stroke="#5a5a5a" stroke-width="0.7"/>
<rect x="334.24" y="319.50" width="3.90" height="37.70" fill="#fff" stroke="#2a2a2a" stroke-width="0.6"/>
<line x1="336.19" y1="318.80" x2="336.19" y2="320.20" stroke="#5a5a5a" stroke-width="0.7"/>
<line x1="334.89" y1="318.80" x2="337.49" y2="318.80" stroke="#5a5a5a" stroke-width="0.7"/>
<line x1="334.89" y1="320.20" x2="337.49" y2="320.20" stroke="#5a5a5a" stroke-width="0.7"/>
<rect x="338.74" y="327.90" width="3.90" height="29.30" fill="#c9c9c9" stroke="#4a4a4a" stroke-width="0.6"/>
<line x1="340.69" y1="326.22" x2="340.69" y2="329.58" stroke="#5a5a5a" stroke-width="0.7"/>
<line x1="339.39" y1="326.22" x2="341.99" y2="326.22" stroke="#5a5a5a" stroke-width="0.7"/>
<line x1="339.39" y1="329.58" x2="341.99" y2="329.58" stroke="#5a5a5a" stroke-width="0.7"/>
<rect x="343.24" y="344.00" width="3.90" height="13.20" fill="#000" stroke="#000" stroke-width="0.6"/>
<line x1="345.19" y1="339.24" x2="345.19" y2="344.00" stroke="#5a5a5a" stroke-width="0.7"/>
<line x1="343.89" y1="339.24" x2="346.49" y2="339.24" stroke="#5a5a5a" stroke-width="0.7"/>
<text x="331.16" y="369.20" font-size="8.0" text-anchor="middle" font-weight="normal" font-style="italic" fill="#000" stroke="#000" stroke-width="0.15">RPL15A</text>
<rect x="353.49" y="341.51" width="3.90" height="15.69" fill="url(#p1)" stroke="#111" stroke-width="0.6"/>
<line x1="355.44" y1="339.41" x2="355.44" y2="343.61" stroke="#5a5a5a" stroke-width="0.7"/>
<line x1="354.14" y1="339.41" x2="356.74" y2="339.41" stroke="#5a5a5a" stroke-width="0.7"/>
<line x1="354.14" y1="343.61" x2="356.74" y2="343.61" stroke="#5a5a5a" stroke-width="0.7"/>
<rect x="357.99" y="337.60" width="3.90" height="19.60" fill="url(#p2)" stroke="#222" stroke-width="0.6"/>
<line x1="359.94" y1="336.90" x2="359.94" y2="338.30" stroke="#5a5a5a" stroke-width="0.7"/>
<line x1="358.64" y1="336.90" x2="361.24" y2="336.90" stroke="#5a5a5a" stroke-width="0.7"/>
<line x1="358.64" y1="338.30" x2="361.24" y2="338.30" stroke="#5a5a5a" stroke-width="0.7"/>
<rect x="362.49" y="338.66" width="3.90" height="18.54" fill="url(#p3)" stroke="#555" stroke-width="0.6"/>
<line x1="364.44" y1="337.96" x2="364.44" y2="339.36" stroke="#5a5a5a" stroke-width="0.7"/>
<line x1="363.14" y1="337.96" x2="365.74" y2="337.96" stroke="#5a5a5a" stroke-width="0.7"/>
<line x1="363.14" y1="339.36" x2="365.74" y2="339.36" stroke="#5a5a5a" stroke-width="0.7"/>
<rect x="366.99" y="337.10" width="3.90" height="20.10" fill="url(#p4)" stroke="#777" stroke-width="0.6"/>
<line x1="368.94" y1="336.40" x2="368.94" y2="337.80" stroke="#5a5a5a" stroke-width="0.7"/>
<line x1="367.64" y1="336.40" x2="370.24" y2="336.40" stroke="#5a5a5a" stroke-width="0.7"/>
<line x1="367.64" y1="337.80" x2="370.24" y2="337.80" stroke="#5a5a5a" stroke-width="0.7"/>
<rect x="371.49" y="336.10" width="3.90" height="21.10" fill="#fff" stroke="#2a2a2a" stroke-width="0.6"/>
<line x1="373.44" y1="335.68" x2="373.44" y2="336.52" stroke="#5a5a5a" stroke-width="0.7"/>
<line x1="372.14" y1="335.68" x2="374.74" y2="335.68" stroke="#5a5a5a" stroke-width="0.7"/>
<line x1="372.14" y1="336.52" x2="374.74" y2="336.52" stroke="#5a5a5a" stroke-width="0.7"/>
<rect x="375.99" y="341.00" width="3.90" height="16.20" fill="#c9c9c9" stroke="#4a4a4a" stroke-width="0.6"/>
<line x1="377.94" y1="340.30" x2="377.94" y2="341.70" stroke="#5a5a5a" stroke-width="0.7"/>
<line x1="376.64" y1="340.30" x2="379.24" y2="340.30" stroke="#5a5a5a" stroke-width="0.7"/>
<line x1="376.64" y1="341.70" x2="379.24" y2="341.70" stroke="#5a5a5a" stroke-width="0.7"/>
<rect x="380.49" y="348.60" width="3.90" height="8.60" fill="#000" stroke="#000" stroke-width="0.6"/>
<line x1="382.44" y1="346.50" x2="382.44" y2="348.60" stroke="#5a5a5a" stroke-width="0.7"/>
<line x1="381.14" y1="346.50" x2="383.74" y2="346.50" stroke="#5a5a5a" stroke-width="0.7"/>
<text x="368.44" y="369.20" font-size="8.0" text-anchor="middle" font-weight="normal" font-style="italic" fill="#000" stroke="#000" stroke-width="0.15">RPL4</text>
<rect x="390.73" y="341.90" width="3.90" height="15.30" fill="url(#p1)" stroke="#111" stroke-width="0.6"/>
<line x1="392.68" y1="341.20" x2="392.68" y2="342.60" stroke="#5a5a5a" stroke-width="0.7"/>
<line x1="391.38" y1="341.20" x2="393.98" y2="341.20" stroke="#5a5a5a" stroke-width="0.7"/>
<line x1="391.38" y1="342.60" x2="393.98" y2="342.60" stroke="#5a5a5a" stroke-width="0.7"/>
<rect x="395.23" y="338.66" width="3.90" height="18.54" fill="url(#p2)" stroke="#222" stroke-width="0.6"/>
<line x1="397.18" y1="337.96" x2="397.18" y2="339.36" stroke="#5a5a5a" stroke-width="0.7"/>
<line x1="395.88" y1="337.96" x2="398.48" y2="337.96" stroke="#5a5a5a" stroke-width="0.7"/>
<line x1="395.88" y1="339.36" x2="398.48" y2="339.36" stroke="#5a5a5a" stroke-width="0.7"/>
<rect x="399.73" y="339.29" width="3.90" height="17.91" fill="url(#p3)" stroke="#555" stroke-width="0.6"/>
<line x1="401.68" y1="338.59" x2="401.68" y2="339.99" stroke="#5a5a5a" stroke-width="0.7"/>
<line x1="400.38" y1="338.59" x2="402.98" y2="338.59" stroke="#5a5a5a" stroke-width="0.7"/>
<line x1="400.38" y1="339.99" x2="402.98" y2="339.99" stroke="#5a5a5a" stroke-width="0.7"/>
<rect x="404.23" y="338.20" width="3.90" height="19.00" fill="url(#p4)" stroke="#777" stroke-width="0.6"/>
<line x1="406.18" y1="337.78" x2="406.18" y2="338.62" stroke="#5a5a5a" stroke-width="0.7"/>
<line x1="404.88" y1="337.78" x2="407.48" y2="337.78" stroke="#5a5a5a" stroke-width="0.7"/>
<line x1="404.88" y1="338.62" x2="407.48" y2="338.62" stroke="#5a5a5a" stroke-width="0.7"/>
<rect x="408.73" y="338.20" width="3.90" height="19.00" fill="#fff" stroke="#2a2a2a" stroke-width="0.6"/>
<line x1="410.68" y1="337.78" x2="410.68" y2="338.62" stroke="#5a5a5a" stroke-width="0.7"/>
<line x1="409.38" y1="337.78" x2="411.98" y2="337.78" stroke="#5a5a5a" stroke-width="0.7"/>
<line x1="409.38" y1="338.62" x2="411.98" y2="338.62" stroke="#5a5a5a" stroke-width="0.7"/>
<rect x="413.23" y="344.31" width="3.90" height="12.89" fill="#c9c9c9" stroke="#4a4a4a" stroke-width="0.6"/>
<line x1="415.18" y1="343.61" x2="415.18" y2="345.01" stroke="#5a5a5a" stroke-width="0.7"/>
<line x1="413.88" y1="343.61" x2="416.48" y2="343.61" stroke="#5a5a5a" stroke-width="0.7"/>
<line x1="413.88" y1="345.01" x2="416.48" y2="345.01" stroke="#5a5a5a" stroke-width="0.7"/>
<rect x="417.73" y="350.70" width="3.90" height="6.50" fill="#000" stroke="#000" stroke-width="0.6"/>
<line x1="419.68" y1="350.00" x2="419.68" y2="350.70" stroke="#5a5a5a" stroke-width="0.7"/>
<line x1="418.38" y1="350.00" x2="420.98" y2="350.00" stroke="#5a5a5a" stroke-width="0.7"/>
<text x="405.72" y="369.20" font-size="8.0" text-anchor="middle" font-weight="normal" font-style="italic" fill="#000" stroke="#000" stroke-width="0.15">RPL8B</text>
<rect x="427.97" y="344.31" width="3.90" height="12.89" fill="url(#p1)" stroke="#111" stroke-width="0.6"/>
<line x1="429.92" y1="343.61" x2="429.92" y2="345.01" stroke="#5a5a5a" stroke-width="0.7"/>
<line x1="428.62" y1="343.61" x2="431.22" y2="343.61" stroke="#5a5a5a" stroke-width="0.7"/>
<line x1="428.62" y1="345.01" x2="431.22" y2="345.01" stroke="#5a5a5a" stroke-width="0.7"/>
<rect x="432.47" y="342.50" width="3.90" height="14.70" fill="url(#p2)" stroke="#222" stroke-width="0.6"/>
<line x1="434.42" y1="341.80" x2="434.42" y2="343.20" stroke="#5a5a5a" stroke-width="0.7"/>
<line x1="433.12" y1="341.80" x2="435.72" y2="341.80" stroke="#5a5a5a" stroke-width="0.7"/>
<line x1="433.12" y1="343.20" x2="435.72" y2="343.20" stroke="#5a5a5a" stroke-width="0.7"/>
<rect x="436.97" y="343.00" width="3.90" height="14.20" fill="url(#p3)" stroke="#555" stroke-width="0.6"/>
<line x1="438.92" y1="342.30" x2="438.92" y2="343.70" stroke="#5a5a5a" stroke-width="0.7"/>
<line x1="437.62" y1="342.30" x2="440.22" y2="342.30" stroke="#5a5a5a" stroke-width="0.7"/>
<line x1="437.62" y1="343.70" x2="440.22" y2="343.70" stroke="#5a5a5a" stroke-width="0.7"/>
<rect x="441.47" y="342.09" width="3.90" height="15.11" fill="url(#p4)" stroke="#777" stroke-width="0.6"/>
<line x1="443.42" y1="341.39" x2="443.42" y2="342.79" stroke="#5a5a5a" stroke-width="0.7"/>
<line x1="442.12" y1="341.39" x2="444.72" y2="341.39" stroke="#5a5a5a" stroke-width="0.7"/>
<line x1="442.12" y1="342.79" x2="444.72" y2="342.79" stroke="#5a5a5a" stroke-width="0.7"/>
<rect x="445.97" y="342.09" width="3.90" height="15.11" fill="#fff" stroke="#2a2a2a" stroke-width="0.6"/>
<line x1="447.92" y1="341.39" x2="447.92" y2="342.79" stroke="#5a5a5a" stroke-width="0.7"/>
<line x1="446.62" y1="341.39" x2="449.22" y2="341.39" stroke="#5a5a5a" stroke-width="0.7"/>
<line x1="446.62" y1="342.79" x2="449.22" y2="342.79" stroke="#5a5a5a" stroke-width="0.7"/>
<rect x="450.47" y="346.80" width="3.90" height="10.40" fill="#c9c9c9" stroke="#4a4a4a" stroke-width="0.6"/>
<line x1="452.42" y1="346.10" x2="452.42" y2="347.50" stroke="#5a5a5a" stroke-width="0.7"/>
<line x1="451.12" y1="346.10" x2="453.72" y2="346.10" stroke="#5a5a5a" stroke-width="0.7"/>
<line x1="451.12" y1="347.50" x2="453.72" y2="347.50" stroke="#5a5a5a" stroke-width="0.7"/>
<rect x="454.97" y="353.29" width="3.90" height="3.91" fill="#000" stroke="#000" stroke-width="0.6"/>
<line x1="456.92" y1="352.73" x2="456.92" y2="353.29" stroke="#5a5a5a" stroke-width="0.7"/>
<line x1="455.62" y1="352.73" x2="458.22" y2="352.73" stroke="#5a5a5a" stroke-width="0.7"/>
<text x="443.00" y="369.20" font-size="8.0" text-anchor="middle" font-weight="normal" font-style="italic" fill="#000" stroke="#000" stroke-width="0.15">SSB1</text>
<rect x="465.21" y="352.20" width="3.90" height="5.00" fill="url(#p1)" stroke="#111" stroke-width="0.6"/>
<line x1="467.16" y1="351.08" x2="467.16" y2="353.32" stroke="#5a5a5a" stroke-width="0.7"/>
<line x1="465.86" y1="351.08" x2="468.46" y2="351.08" stroke="#5a5a5a" stroke-width="0.7"/>
<line x1="465.86" y1="353.32" x2="468.46" y2="353.32" stroke="#5a5a5a" stroke-width="0.7"/>
<rect x="469.71" y="350.49" width="3.90" height="6.71" fill="url(#p2)" stroke="#222" stroke-width="0.6"/>
<line x1="471.66" y1="349.65" x2="471.66" y2="351.33" stroke="#5a5a5a" stroke-width="0.7"/>
<line x1="470.36" y1="349.65" x2="472.96" y2="349.65" stroke="#5a5a5a" stroke-width="0.7"/>
<line x1="470.36" y1="351.33" x2="472.96" y2="351.33" stroke="#5a5a5a" stroke-width="0.7"/>
<rect x="474.21" y="351.60" width="3.90" height="5.60" fill="url(#p3)" stroke="#555" stroke-width="0.6"/>
<line x1="476.16" y1="350.76" x2="476.16" y2="352.44" stroke="#5a5a5a" stroke-width="0.7"/>
<line x1="474.86" y1="350.76" x2="477.46" y2="350.76" stroke="#5a5a5a" stroke-width="0.7"/>
<line x1="474.86" y1="352.44" x2="477.46" y2="352.44" stroke="#5a5a5a" stroke-width="0.7"/>
<rect x="478.71" y="349.60" width="3.90" height="7.60" fill="url(#p4)" stroke="#777" stroke-width="0.6"/>
<line x1="480.66" y1="349.04" x2="480.66" y2="350.16" stroke="#5a5a5a" stroke-width="0.7"/>
<line x1="479.36" y1="349.04" x2="481.96" y2="349.04" stroke="#5a5a5a" stroke-width="0.7"/>
<line x1="479.36" y1="350.16" x2="481.96" y2="350.16" stroke="#5a5a5a" stroke-width="0.7"/>
<rect x="483.21" y="349.00" width="3.90" height="8.20" fill="#fff" stroke="#2a2a2a" stroke-width="0.6"/>
<line x1="485.16" y1="348.44" x2="485.16" y2="349.56" stroke="#5a5a5a" stroke-width="0.7"/>
<line x1="483.86" y1="348.44" x2="486.46" y2="348.44" stroke="#5a5a5a" stroke-width="0.7"/>
<line x1="483.86" y1="349.56" x2="486.46" y2="349.56" stroke="#5a5a5a" stroke-width="0.7"/>
<rect x="487.71" y="342.50" width="3.90" height="14.70" fill="#c9c9c9" stroke="#4a4a4a" stroke-width="0.6"/>
<line x1="489.66" y1="341.66" x2="489.66" y2="343.34" stroke="#5a5a5a" stroke-width="0.7"/>
<line x1="488.36" y1="341.66" x2="490.96" y2="341.66" stroke="#5a5a5a" stroke-width="0.7"/>
<line x1="488.36" y1="343.34" x2="490.96" y2="343.34" stroke="#5a5a5a" stroke-width="0.7"/>
<rect x="492.21" y="322.00" width="3.90" height="35.20" fill="#000" stroke="#000" stroke-width="0.6"/>
<line x1="494.16" y1="320.32" x2="494.16" y2="322.00" stroke="#5a5a5a" stroke-width="0.7"/>
<line x1="492.86" y1="320.32" x2="495.46" y2="320.32" stroke="#5a5a5a" stroke-width="0.7"/>
<text x="480.28" y="369.20" font-size="8.0" text-anchor="middle" font-weight="normal" font-style="italic" fill="#000" stroke="#000" stroke-width="0.15">SSA1</text>
<rect x="506.96" y="356.95" width="3.90" height="0.25" fill="url(#p2)" stroke="#222" stroke-width="0.6"/>
<rect x="515.96" y="356.36" width="3.90" height="0.84" fill="url(#p4)" stroke="#777" stroke-width="0.6"/>
<line x1="517.91" y1="356.08" x2="517.91" y2="356.64" stroke="#5a5a5a" stroke-width="0.7"/>
<line x1="516.61" y1="356.08" x2="519.21" y2="356.08" stroke="#5a5a5a" stroke-width="0.7"/>
<line x1="516.61" y1="356.64" x2="519.21" y2="356.64" stroke="#5a5a5a" stroke-width="0.7"/>
<rect x="520.46" y="343.49" width="3.90" height="13.71" fill="#fff" stroke="#2a2a2a" stroke-width="0.6"/>
<line x1="522.41" y1="342.93" x2="522.41" y2="344.05" stroke="#5a5a5a" stroke-width="0.7"/>
<line x1="521.11" y1="342.93" x2="523.71" y2="342.93" stroke="#5a5a5a" stroke-width="0.7"/>
<line x1="521.11" y1="344.05" x2="523.71" y2="344.05" stroke="#5a5a5a" stroke-width="0.7"/>
<rect x="524.96" y="334.30" width="3.90" height="22.90" fill="#c9c9c9" stroke="#4a4a4a" stroke-width="0.6"/>
<line x1="526.91" y1="333.74" x2="526.91" y2="334.86" stroke="#5a5a5a" stroke-width="0.7"/>
<line x1="525.61" y1="333.74" x2="528.21" y2="333.74" stroke="#5a5a5a" stroke-width="0.7"/>
<line x1="525.61" y1="334.86" x2="528.21" y2="334.86" stroke="#5a5a5a" stroke-width="0.7"/>
<rect x="529.46" y="350.00" width="3.90" height="7.20" fill="#000" stroke="#000" stroke-width="0.6"/>
<line x1="531.41" y1="347.34" x2="531.41" y2="350.00" stroke="#5a5a5a" stroke-width="0.7"/>
<line x1="530.11" y1="347.34" x2="532.71" y2="347.34" stroke="#5a5a5a" stroke-width="0.7"/>
<text x="517.56" y="369.20" font-size="8.0" text-anchor="middle" font-weight="normal" font-style="italic" fill="#000" stroke="#000" stroke-width="0.15">HXT7</text>
<rect x="562.20" y="356.64" width="3.90" height="0.56" fill="#c9c9c9" stroke="#4a4a4a" stroke-width="0.6"/>
<line x1="564.15" y1="356.36" x2="564.15" y2="356.92" stroke="#5a5a5a" stroke-width="0.7"/>
<line x1="562.85" y1="356.36" x2="565.45" y2="356.36" stroke="#5a5a5a" stroke-width="0.7"/>
<line x1="562.85" y1="356.92" x2="565.45" y2="356.92" stroke="#5a5a5a" stroke-width="0.7"/>
<rect x="566.70" y="314.91" width="3.90" height="42.29" fill="#000" stroke="#000" stroke-width="0.6"/>
<line x1="568.65" y1="291.11" x2="568.65" y2="314.91" stroke="#5a5a5a" stroke-width="0.7"/>
<line x1="567.35" y1="291.11" x2="569.95" y2="291.11" stroke="#5a5a5a" stroke-width="0.7"/>
<text x="554.84" y="369.20" font-size="8.0" text-anchor="middle" font-weight="normal" font-style="italic" fill="#000" stroke="#000" stroke-width="0.15">ADH2</text>
<rect x="599.44" y="220.70" width="3.90" height="136.50" fill="#c9c9c9" stroke="#4a4a4a" stroke-width="0.6"/>
<line x1="601.39" y1="212.30" x2="601.39" y2="229.10" stroke="#5a5a5a" stroke-width="0.7"/>
<line x1="600.09" y1="212.30" x2="602.69" y2="212.30" stroke="#5a5a5a" stroke-width="0.7"/>
<line x1="600.09" y1="229.10" x2="602.69" y2="229.10" stroke="#5a5a5a" stroke-width="0.7"/>
<text x="592.12" y="369.20" font-size="8.0" text-anchor="middle" font-weight="normal" font-style="italic" fill="#000" stroke="#000" stroke-width="0.15">GAL1</text>
<rect x="614.18" y="353.15" width="3.90" height="4.05" fill="url(#p1)" stroke="#111" stroke-width="0.6"/>
<line x1="616.13" y1="352.29" x2="616.13" y2="354.02" stroke="#5a5a5a" stroke-width="0.7"/>
<line x1="614.83" y1="352.29" x2="617.43" y2="352.29" stroke="#5a5a5a" stroke-width="0.7"/>
<line x1="614.83" y1="354.02" x2="617.43" y2="354.02" stroke="#5a5a5a" stroke-width="0.7"/>
<rect x="618.68" y="353.49" width="3.90" height="3.71" fill="url(#p2)" stroke="#222" stroke-width="0.6"/>
<line x1="620.63" y1="352.99" x2="620.63" y2="353.99" stroke="#5a5a5a" stroke-width="0.7"/>
<line x1="619.33" y1="352.99" x2="621.93" y2="352.99" stroke="#5a5a5a" stroke-width="0.7"/>
<line x1="619.33" y1="353.99" x2="621.93" y2="353.99" stroke="#5a5a5a" stroke-width="0.7"/>
<rect x="623.18" y="353.67" width="3.90" height="3.53" fill="url(#p3)" stroke="#555" stroke-width="0.6"/>
<line x1="625.13" y1="352.87" x2="625.13" y2="354.47" stroke="#5a5a5a" stroke-width="0.7"/>
<line x1="623.83" y1="352.87" x2="626.43" y2="352.87" stroke="#5a5a5a" stroke-width="0.7"/>
<line x1="623.83" y1="354.47" x2="626.43" y2="354.47" stroke="#5a5a5a" stroke-width="0.7"/>
<rect x="627.68" y="354.36" width="3.90" height="2.84" fill="url(#p4)" stroke="#777" stroke-width="0.6"/>
<line x1="629.63" y1="354.25" x2="629.63" y2="354.47" stroke="#5a5a5a" stroke-width="0.7"/>
<line x1="628.33" y1="354.25" x2="630.93" y2="354.25" stroke="#5a5a5a" stroke-width="0.7"/>
<line x1="628.33" y1="354.47" x2="630.93" y2="354.47" stroke="#5a5a5a" stroke-width="0.7"/>
<rect x="632.18" y="353.78" width="3.90" height="3.42" fill="#fff" stroke="#2a2a2a" stroke-width="0.6"/>
<line x1="634.13" y1="353.46" x2="634.13" y2="354.11" stroke="#5a5a5a" stroke-width="0.7"/>
<line x1="632.83" y1="353.46" x2="635.43" y2="353.46" stroke="#5a5a5a" stroke-width="0.7"/>
<line x1="632.83" y1="354.11" x2="635.43" y2="354.11" stroke="#5a5a5a" stroke-width="0.7"/>
<rect x="636.68" y="354.55" width="3.90" height="2.65" fill="#c9c9c9" stroke="#4a4a4a" stroke-width="0.6"/>
<line x1="638.63" y1="354.01" x2="638.63" y2="355.10" stroke="#5a5a5a" stroke-width="0.7"/>
<line x1="637.33" y1="354.01" x2="639.93" y2="354.01" stroke="#5a5a5a" stroke-width="0.7"/>
<line x1="637.33" y1="355.10" x2="639.93" y2="355.10" stroke="#5a5a5a" stroke-width="0.7"/>
<rect x="641.18" y="354.15" width="3.90" height="3.05" fill="#000" stroke="#000" stroke-width="0.6"/>
<line x1="643.13" y1="353.03" x2="643.13" y2="354.15" stroke="#5a5a5a" stroke-width="0.7"/>
<line x1="641.83" y1="353.03" x2="644.43" y2="353.03" stroke="#5a5a5a" stroke-width="0.7"/>
<text x="629.40" y="369.20" font-size="8.0" text-anchor="middle" font-weight="normal" font-style="italic" fill="#000" stroke="#000" stroke-width="0.15">PDA1</text>
<rect x="651.42" y="356.57" width="3.90" height="0.63" fill="url(#p1)" stroke="#111" stroke-width="0.6"/>
<line x1="653.37" y1="356.08" x2="653.37" y2="357.06" stroke="#5a5a5a" stroke-width="0.7"/>
<line x1="652.07" y1="356.08" x2="654.67" y2="356.08" stroke="#5a5a5a" stroke-width="0.7"/>
<line x1="652.07" y1="357.06" x2="654.67" y2="357.06" stroke="#5a5a5a" stroke-width="0.7"/>
<rect x="655.92" y="356.43" width="3.90" height="0.77" fill="url(#p2)" stroke="#222" stroke-width="0.6"/>
<line x1="657.87" y1="356.15" x2="657.87" y2="356.71" stroke="#5a5a5a" stroke-width="0.7"/>
<line x1="656.57" y1="356.15" x2="659.17" y2="356.15" stroke="#5a5a5a" stroke-width="0.7"/>
<line x1="656.57" y1="356.71" x2="659.17" y2="356.71" stroke="#5a5a5a" stroke-width="0.7"/>
<rect x="660.42" y="356.57" width="3.90" height="0.63" fill="url(#p3)" stroke="#555" stroke-width="0.6"/>
<line x1="662.37" y1="356.46" x2="662.37" y2="356.68" stroke="#5a5a5a" stroke-width="0.7"/>
<line x1="661.07" y1="356.46" x2="663.67" y2="356.46" stroke="#5a5a5a" stroke-width="0.7"/>
<line x1="661.07" y1="356.68" x2="663.67" y2="356.68" stroke="#5a5a5a" stroke-width="0.7"/>
<rect x="664.92" y="356.64" width="3.90" height="0.56" fill="url(#p4)" stroke="#777" stroke-width="0.6"/>
<line x1="666.87" y1="356.57" x2="666.87" y2="356.71" stroke="#5a5a5a" stroke-width="0.7"/>
<line x1="665.57" y1="356.57" x2="668.17" y2="356.57" stroke="#5a5a5a" stroke-width="0.7"/>
<line x1="665.57" y1="356.71" x2="668.17" y2="356.71" stroke="#5a5a5a" stroke-width="0.7"/>
<rect x="669.42" y="355.87" width="3.90" height="1.33" fill="#fff" stroke="#2a2a2a" stroke-width="0.6"/>
<line x1="671.37" y1="355.73" x2="671.37" y2="356.01" stroke="#5a5a5a" stroke-width="0.7"/>
<line x1="670.07" y1="355.73" x2="672.67" y2="355.73" stroke="#5a5a5a" stroke-width="0.7"/>
<line x1="670.07" y1="356.01" x2="672.67" y2="356.01" stroke="#5a5a5a" stroke-width="0.7"/>
<rect x="673.92" y="355.17" width="3.90" height="2.03" fill="#c9c9c9" stroke="#4a4a4a" stroke-width="0.6"/>
<line x1="675.87" y1="354.75" x2="675.87" y2="355.59" stroke="#5a5a5a" stroke-width="0.7"/>
<line x1="674.57" y1="354.75" x2="677.17" y2="354.75" stroke="#5a5a5a" stroke-width="0.7"/>
<line x1="674.57" y1="355.59" x2="677.17" y2="355.59" stroke="#5a5a5a" stroke-width="0.7"/>
<rect x="678.42" y="356.22" width="3.90" height="0.98" fill="#000" stroke="#000" stroke-width="0.6"/>
<line x1="680.37" y1="355.59" x2="680.37" y2="356.22" stroke="#5a5a5a" stroke-width="0.7"/>
<line x1="679.07" y1="355.59" x2="681.67" y2="355.59" stroke="#5a5a5a" stroke-width="0.7"/>
<text x="666.68" y="369.20" font-size="8.0" text-anchor="middle" font-weight="normal" font-style="italic" fill="#000" stroke="#000" stroke-width="0.15">CYC1</text>
<rect x="688.67" y="355.80" width="3.90" height="1.40" fill="url(#p1)" stroke="#111" stroke-width="0.6"/>
<line x1="690.62" y1="355.69" x2="690.62" y2="355.91" stroke="#5a5a5a" stroke-width="0.7"/>
<line x1="689.32" y1="355.69" x2="691.92" y2="355.69" stroke="#5a5a5a" stroke-width="0.7"/>
<line x1="689.32" y1="355.91" x2="691.92" y2="355.91" stroke="#5a5a5a" stroke-width="0.7"/>
<rect x="693.17" y="355.41" width="3.90" height="1.79" fill="url(#p2)" stroke="#222" stroke-width="0.6"/>
<line x1="695.12" y1="355.32" x2="695.12" y2="355.49" stroke="#5a5a5a" stroke-width="0.7"/>
<line x1="693.82" y1="355.32" x2="696.42" y2="355.32" stroke="#5a5a5a" stroke-width="0.7"/>
<line x1="693.82" y1="355.49" x2="696.42" y2="355.49" stroke="#5a5a5a" stroke-width="0.7"/>
<rect x="697.67" y="355.73" width="3.90" height="1.47" fill="url(#p3)" stroke="#555" stroke-width="0.6"/>
<line x1="699.62" y1="355.66" x2="699.62" y2="355.80" stroke="#5a5a5a" stroke-width="0.7"/>
<line x1="698.32" y1="355.66" x2="700.92" y2="355.66" stroke="#5a5a5a" stroke-width="0.7"/>
<line x1="698.32" y1="355.80" x2="700.92" y2="355.80" stroke="#5a5a5a" stroke-width="0.7"/>
<rect x="702.17" y="355.49" width="3.90" height="1.71" fill="url(#p4)" stroke="#777" stroke-width="0.6"/>
<line x1="704.12" y1="355.41" x2="704.12" y2="355.58" stroke="#5a5a5a" stroke-width="0.7"/>
<line x1="702.82" y1="355.41" x2="705.42" y2="355.41" stroke="#5a5a5a" stroke-width="0.7"/>
<line x1="702.82" y1="355.58" x2="705.42" y2="355.58" stroke="#5a5a5a" stroke-width="0.7"/>
<rect x="706.67" y="355.69" width="3.90" height="1.51" fill="#fff" stroke="#2a2a2a" stroke-width="0.6"/>
<line x1="708.62" y1="355.63" x2="708.62" y2="355.74" stroke="#5a5a5a" stroke-width="0.7"/>
<line x1="707.32" y1="355.63" x2="709.92" y2="355.63" stroke="#5a5a5a" stroke-width="0.7"/>
<line x1="707.32" y1="355.74" x2="709.92" y2="355.74" stroke="#5a5a5a" stroke-width="0.7"/>
<rect x="711.17" y="352.79" width="3.90" height="4.41" fill="#c9c9c9" stroke="#4a4a4a" stroke-width="0.6"/>
<line x1="713.12" y1="351.67" x2="713.12" y2="353.91" stroke="#5a5a5a" stroke-width="0.7"/>
<line x1="711.82" y1="351.67" x2="714.42" y2="351.67" stroke="#5a5a5a" stroke-width="0.7"/>
<line x1="711.82" y1="353.91" x2="714.42" y2="353.91" stroke="#5a5a5a" stroke-width="0.7"/>
<rect x="715.67" y="353.49" width="3.90" height="3.71" fill="#000" stroke="#000" stroke-width="0.6"/>
<line x1="717.62" y1="353.14" x2="717.62" y2="353.49" stroke="#5a5a5a" stroke-width="0.7"/>
<line x1="716.32" y1="353.14" x2="718.92" y2="353.14" stroke="#5a5a5a" stroke-width="0.7"/>
<text x="703.96" y="369.20" font-size="8.0" text-anchor="middle" font-weight="normal" font-style="italic" fill="#000" stroke="#000" stroke-width="0.15">TPS1</text>
<rect x="725.91" y="354.82" width="3.90" height="2.38" fill="url(#p1)" stroke="#111" stroke-width="0.6"/>
<line x1="727.86" y1="354.71" x2="727.86" y2="354.93" stroke="#5a5a5a" stroke-width="0.7"/>
<line x1="726.56" y1="354.71" x2="729.16" y2="354.71" stroke="#5a5a5a" stroke-width="0.7"/>
<line x1="726.56" y1="354.93" x2="729.16" y2="354.93" stroke="#5a5a5a" stroke-width="0.7"/>
<rect x="730.41" y="354.36" width="3.90" height="2.84" fill="url(#p2)" stroke="#222" stroke-width="0.6"/>
<line x1="732.36" y1="354.27" x2="732.36" y2="354.44" stroke="#5a5a5a" stroke-width="0.7"/>
<line x1="731.06" y1="354.27" x2="733.66" y2="354.27" stroke="#5a5a5a" stroke-width="0.7"/>
<line x1="731.06" y1="354.44" x2="733.66" y2="354.44" stroke="#5a5a5a" stroke-width="0.7"/>
<rect x="734.91" y="354.47" width="3.90" height="2.73" fill="url(#p3)" stroke="#555" stroke-width="0.6"/>
<line x1="736.86" y1="354.36" x2="736.86" y2="354.58" stroke="#5a5a5a" stroke-width="0.7"/>
<line x1="735.56" y1="354.36" x2="738.16" y2="354.36" stroke="#5a5a5a" stroke-width="0.7"/>
<line x1="735.56" y1="354.58" x2="738.16" y2="354.58" stroke="#5a5a5a" stroke-width="0.7"/>
<rect x="739.41" y="354.12" width="3.90" height="3.08" fill="url(#p4)" stroke="#777" stroke-width="0.6"/>
<line x1="741.36" y1="353.87" x2="741.36" y2="354.37" stroke="#5a5a5a" stroke-width="0.7"/>
<line x1="740.06" y1="353.87" x2="742.66" y2="353.87" stroke="#5a5a5a" stroke-width="0.7"/>
<line x1="740.06" y1="354.37" x2="742.66" y2="354.37" stroke="#5a5a5a" stroke-width="0.7"/>
<rect x="743.91" y="353.84" width="3.90" height="3.36" fill="#fff" stroke="#2a2a2a" stroke-width="0.6"/>
<line x1="745.86" y1="353.67" x2="745.86" y2="354.01" stroke="#5a5a5a" stroke-width="0.7"/>
<line x1="744.56" y1="353.67" x2="747.16" y2="353.67" stroke="#5a5a5a" stroke-width="0.7"/>
<line x1="744.56" y1="354.01" x2="747.16" y2="354.01" stroke="#5a5a5a" stroke-width="0.7"/>
<rect x="748.41" y="351.67" width="3.90" height="5.53" fill="#c9c9c9" stroke="#4a4a4a" stroke-width="0.6"/>
<line x1="750.36" y1="351.56" x2="750.36" y2="351.78" stroke="#5a5a5a" stroke-width="0.7"/>
<line x1="749.06" y1="351.56" x2="751.66" y2="351.56" stroke="#5a5a5a" stroke-width="0.7"/>
<line x1="749.06" y1="351.78" x2="751.66" y2="351.78" stroke="#5a5a5a" stroke-width="0.7"/>
<rect x="752.91" y="348.87" width="3.90" height="8.33" fill="#000" stroke="#000" stroke-width="0.6"/>
<line x1="754.86" y1="347.47" x2="754.86" y2="348.87" stroke="#5a5a5a" stroke-width="0.7"/>
<line x1="753.56" y1="347.47" x2="756.16" y2="347.47" stroke="#5a5a5a" stroke-width="0.7"/>
<text x="741.24" y="369.20" font-size="8.0" text-anchor="middle" font-weight="normal" font-style="italic" fill="#000" stroke="#000" stroke-width="0.15">CUP1</text>
<text x="17.40" y="364.00" font-size="18.5" text-anchor="start" font-weight="bold" font-style="normal" fill="#000">d</text>
<text transform="translate(7.1 280.0) rotate(-90) scale(1.105 1)" font-size="8.3" text-anchor="middle" font-weight="bold" fill="#000">Relative GFP fluorescence</text>
<text transform="translate(19.5 279.9) rotate(-90) scale(1.121 1)" font-size="8.3" text-anchor="middle" font-weight="bold" fill="#000">(% Auto-fluorescence)</text>
<polygon points="504.70,348.60 505.30,350.47 507.27,350.47 505.68,351.62 506.29,353.48 504.70,352.33 503.11,353.48 503.72,351.62 502.13,350.47 504.10,350.47" fill="#111"/>
<polygon points="513.60,348.60 514.20,350.47 516.17,350.47 514.58,351.62 515.19,353.48 513.60,352.33 512.01,353.48 512.62,351.62 511.03,350.47 513.00,350.47" fill="#111"/>
<polygon points="540.90,350.40 541.50,352.27 543.47,352.27 541.88,353.42 542.49,355.28 540.90,354.13 539.31,355.28 539.92,353.42 538.33,352.27 540.30,352.27" fill="#111"/>
<polygon points="545.20,350.40 545.80,352.27 547.77,352.27 546.18,353.42 546.79,355.28 545.20,354.13 543.61,355.28 544.22,353.42 542.63,352.27 544.60,352.27" fill="#111"/>
<polygon points="549.60,350.40 550.20,352.27 552.17,352.27 550.58,353.42 551.19,355.28 549.60,354.13 548.01,355.28 548.62,353.42 547.03,352.27 549.00,352.27" fill="#111"/>
<polygon points="553.90,350.40 554.50,352.27 556.47,352.27 554.88,353.42 555.49,355.28 553.90,354.13 552.31,355.28 552.92,353.42 551.33,352.27 553.30,352.27" fill="#111"/>
<polygon points="558.20,350.40 558.80,352.27 560.77,352.27 559.18,353.42 559.79,355.28 558.20,354.13 556.61,355.28 557.22,353.42 555.63,352.27 557.60,352.27" fill="#111"/>
<polygon points="579.00,350.40 579.60,352.27 581.57,352.27 579.98,353.42 580.59,355.28 579.00,354.13 577.41,355.28 578.02,353.42 576.43,352.27 578.40,352.27" fill="#111"/>
<polygon points="583.30,350.40 583.90,352.27 585.87,352.27 584.28,353.42 584.89,355.28 583.30,354.13 581.71,355.28 582.32,353.42 580.73,352.27 582.70,352.27" fill="#111"/>
<polygon points="587.60,350.40 588.20,352.27 590.17,352.27 588.58,353.42 589.19,355.28 587.60,354.13 586.01,355.28 586.62,353.42 585.03,352.27 587.00,352.27" fill="#111"/>
<polygon points="591.90,350.40 592.50,352.27 594.47,352.27 592.88,353.42 593.49,355.28 591.90,354.13 590.31,355.28 590.92,353.42 589.33,352.27 591.30,352.27" fill="#111"/>
<polygon points="596.10,350.40 596.70,352.27 598.67,352.27 597.08,353.42 597.69,355.28 596.10,354.13 594.51,355.28 595.12,353.42 593.53,352.27 595.50,352.27" fill="#111"/>
<polygon points="605.20,350.40 605.80,352.27 607.77,352.27 606.18,353.42 606.79,355.28 605.20,354.13 603.61,355.28 604.22,353.42 602.63,352.27 604.60,352.27" fill="#111"/>
<rect x="179.20" y="222.00" width="5.20" height="5.20" fill="url(#p1)" stroke="#111" stroke-width="0.6"/>
<text x="186.70" y="228.60" font-size="11.5" text-anchor="start" font-weight="normal" font-style="normal" fill="#111">40 g/L Glucose</text>
<rect x="310.60" y="222.00" width="5.20" height="5.20" fill="url(#p2)" stroke="#222" stroke-width="0.6"/>
<text x="318.10" y="228.60" font-size="11.5" text-anchor="start" font-weight="normal" font-style="normal" fill="#111">30 g/L Glucose</text>
<rect x="441.80" y="222.00" width="5.20" height="5.20" fill="url(#p3)" stroke="#555" stroke-width="0.6"/>
<text x="449.30" y="228.60" font-size="11.5" text-anchor="start" font-weight="normal" font-style="normal" fill="#111">20 g/L Glucose</text>
<rect x="179.20" y="236.80" width="5.20" height="5.20" fill="url(#p4)" stroke="#777" stroke-width="0.6"/>
<text x="186.70" y="243.40" font-size="11.5" text-anchor="start" font-weight="normal" font-style="normal" fill="#111">10 g/L Glucose</text>
<rect x="310.60" y="236.80" width="5.20" height="5.20" fill="#fff" stroke="#2a2a2a" stroke-width="0.6"/>
<text x="318.10" y="243.40" font-size="11.5" text-anchor="start" font-weight="normal" font-style="normal" fill="#111">20 g/L Sucrose</text>
<rect x="441.80" y="236.80" width="5.20" height="5.20" fill="#c9c9c9" stroke="#4a4a4a" stroke-width="0.6"/>
<text x="449.30" y="243.40" font-size="11.5" text-anchor="start" font-weight="normal" font-style="normal" fill="#111">20 g/L Galactose</text>
<rect x="179.20" y="251.60" width="5.20" height="5.20" fill="#000" stroke="#000" stroke-width="0.6"/>
<text x="186.70" y="258.20" font-size="11.5" text-anchor="start" font-weight="normal" font-style="normal" fill="#111">2% v/v Ethanol</text>
<line x1="604.50" y1="270.00" x2="604.50" y2="339.30" stroke="#f9f9f9" stroke-width="1"/>
<line x1="632.60" y1="215.40" x2="632.60" y2="322.40" stroke="#7c7c7c" stroke-width="1"/>
<line x1="632.60" y1="322.40" x2="782.30" y2="322.40" stroke="#7c7c7c" stroke-width="1"/>
<line x1="632.60" y1="322.40" x2="632.60" y2="324.90" stroke="#7c7c7c" stroke-width="1"/>
<line x1="670.02" y1="322.40" x2="670.02" y2="324.90" stroke="#7c7c7c" stroke-width="1"/>
<line x1="707.45" y1="322.40" x2="707.45" y2="324.90" stroke="#7c7c7c" stroke-width="1"/>
<line x1="744.88" y1="322.40" x2="744.88" y2="324.90" stroke="#7c7c7c" stroke-width="1"/>
<line x1="782.30" y1="322.40" x2="782.30" y2="324.90" stroke="#7c7c7c" stroke-width="1"/>
<line x1="630.30" y1="322.40" x2="632.60" y2="322.40" stroke="#7c7c7c" stroke-width="1"/>
<text x="625.20" y="324.90" font-size="8.1" text-anchor="end" font-weight="normal" font-style="normal" fill="#111">0</text>
<line x1="630.30" y1="291.74" x2="632.60" y2="291.74" stroke="#7c7c7c" stroke-width="1"/>
<text x="625.20" y="294.24" font-size="8.1" text-anchor="end" font-weight="normal" font-style="normal" fill="#111">200</text>
<line x1="630.30" y1="261.08" x2="632.60" y2="261.08" stroke="#7c7c7c" stroke-width="1"/>
<text x="625.20" y="263.58" font-size="8.1" text-anchor="end" font-weight="normal" font-style="normal" fill="#111">400</text>
<line x1="630.30" y1="230.42" x2="632.60" y2="230.42" stroke="#7c7c7c" stroke-width="1"/>
<text x="625.20" y="232.92" font-size="8.1" text-anchor="end" font-weight="normal" font-style="normal" fill="#111">600</text>
<rect x="635.30" y="278.10" width="3.90" height="44.30" fill="url(#p1)" stroke="#111" stroke-width="0.6"/>
<line x1="637.25" y1="268.59" x2="637.25" y2="287.60" stroke="#5a5a5a" stroke-width="0.7"/>
<line x1="635.95" y1="268.59" x2="638.55" y2="268.59" stroke="#5a5a5a" stroke-width="0.7"/>
<line x1="635.95" y1="287.60" x2="638.55" y2="287.60" stroke="#5a5a5a" stroke-width="0.7"/>
<rect x="639.80" y="281.78" width="3.90" height="40.62" fill="url(#p2)" stroke="#222" stroke-width="0.6"/>
<line x1="641.75" y1="276.26" x2="641.75" y2="287.29" stroke="#5a5a5a" stroke-width="0.7"/>
<line x1="640.45" y1="276.26" x2="643.05" y2="276.26" stroke="#5a5a5a" stroke-width="0.7"/>
<line x1="640.45" y1="287.29" x2="643.05" y2="287.29" stroke="#5a5a5a" stroke-width="0.7"/>
<rect x="644.30" y="283.77" width="3.90" height="38.63" fill="url(#p3)" stroke="#555" stroke-width="0.6"/>
<line x1="646.25" y1="275.03" x2="646.25" y2="292.51" stroke="#5a5a5a" stroke-width="0.7"/>
<line x1="644.95" y1="275.03" x2="647.55" y2="275.03" stroke="#5a5a5a" stroke-width="0.7"/>
<line x1="644.95" y1="292.51" x2="647.55" y2="292.51" stroke="#5a5a5a" stroke-width="0.7"/>
<rect x="648.80" y="291.28" width="3.90" height="31.12" fill="url(#p4)" stroke="#777" stroke-width="0.6"/>
<line x1="650.75" y1="290.05" x2="650.75" y2="292.51" stroke="#5a5a5a" stroke-width="0.7"/>
<line x1="649.45" y1="290.05" x2="652.05" y2="290.05" stroke="#5a5a5a" stroke-width="0.7"/>
<line x1="649.45" y1="292.51" x2="652.05" y2="292.51" stroke="#5a5a5a" stroke-width="0.7"/>
<rect x="653.30" y="284.99" width="3.90" height="37.41" fill="#fff" stroke="#2a2a2a" stroke-width="0.6"/>
<line x1="655.25" y1="281.47" x2="655.25" y2="288.52" stroke="#5a5a5a" stroke-width="0.7"/>
<line x1="653.95" y1="281.47" x2="656.55" y2="281.47" stroke="#5a5a5a" stroke-width="0.7"/>
<line x1="653.95" y1="288.52" x2="656.55" y2="288.52" stroke="#5a5a5a" stroke-width="0.7"/>
<rect x="657.80" y="293.43" width="3.90" height="28.97" fill="#c9c9c9" stroke="#4a4a4a" stroke-width="0.6"/>
<line x1="659.75" y1="287.45" x2="659.75" y2="299.40" stroke="#5a5a5a" stroke-width="0.7"/>
<line x1="658.45" y1="287.45" x2="661.05" y2="287.45" stroke="#5a5a5a" stroke-width="0.7"/>
<line x1="658.45" y1="299.40" x2="661.05" y2="299.40" stroke="#5a5a5a" stroke-width="0.7"/>
<rect x="662.30" y="288.98" width="3.90" height="33.42" fill="#000" stroke="#000" stroke-width="0.6"/>
<line x1="664.25" y1="276.72" x2="664.25" y2="288.98" stroke="#5a5a5a" stroke-width="0.7"/>
<line x1="662.95" y1="276.72" x2="665.55" y2="276.72" stroke="#5a5a5a" stroke-width="0.7"/>
<text x="651.11" y="334.70" font-size="8.0" text-anchor="middle" font-weight="normal" font-style="italic" fill="#000" stroke="#000" stroke-width="0.15">PDA1</text>
<rect x="672.72" y="315.50" width="3.90" height="6.90" fill="url(#p1)" stroke="#111" stroke-width="0.6"/>
<line x1="674.67" y1="310.14" x2="674.67" y2="320.87" stroke="#5a5a5a" stroke-width="0.7"/>
<line x1="673.38" y1="310.14" x2="675.97" y2="310.14" stroke="#5a5a5a" stroke-width="0.7"/>
<line x1="673.38" y1="320.87" x2="675.97" y2="320.87" stroke="#5a5a5a" stroke-width="0.7"/>
<rect x="677.22" y="313.97" width="3.90" height="8.43" fill="url(#p2)" stroke="#222" stroke-width="0.6"/>
<line x1="679.17" y1="310.90" x2="679.17" y2="317.03" stroke="#5a5a5a" stroke-width="0.7"/>
<line x1="677.88" y1="310.90" x2="680.47" y2="310.90" stroke="#5a5a5a" stroke-width="0.7"/>
<line x1="677.88" y1="317.03" x2="680.47" y2="317.03" stroke="#5a5a5a" stroke-width="0.7"/>
<rect x="681.72" y="315.50" width="3.90" height="6.90" fill="url(#p3)" stroke="#555" stroke-width="0.6"/>
<line x1="683.67" y1="314.28" x2="683.67" y2="316.73" stroke="#5a5a5a" stroke-width="0.7"/>
<line x1="682.38" y1="314.28" x2="684.97" y2="314.28" stroke="#5a5a5a" stroke-width="0.7"/>
<line x1="682.38" y1="316.73" x2="684.97" y2="316.73" stroke="#5a5a5a" stroke-width="0.7"/>
<rect x="686.22" y="316.27" width="3.90" height="6.13" fill="url(#p4)" stroke="#777" stroke-width="0.6"/>
<line x1="688.17" y1="315.50" x2="688.17" y2="317.03" stroke="#5a5a5a" stroke-width="0.7"/>
<line x1="686.88" y1="315.50" x2="689.47" y2="315.50" stroke="#5a5a5a" stroke-width="0.7"/>
<line x1="686.88" y1="317.03" x2="689.47" y2="317.03" stroke="#5a5a5a" stroke-width="0.7"/>
<rect x="690.72" y="307.84" width="3.90" height="14.56" fill="#fff" stroke="#2a2a2a" stroke-width="0.6"/>
<line x1="692.67" y1="306.30" x2="692.67" y2="309.37" stroke="#5a5a5a" stroke-width="0.7"/>
<line x1="691.38" y1="306.30" x2="693.97" y2="306.30" stroke="#5a5a5a" stroke-width="0.7"/>
<line x1="691.38" y1="309.37" x2="693.97" y2="309.37" stroke="#5a5a5a" stroke-width="0.7"/>
<rect x="695.22" y="300.17" width="3.90" height="22.23" fill="#c9c9c9" stroke="#4a4a4a" stroke-width="0.6"/>
<line x1="697.17" y1="295.57" x2="697.17" y2="304.77" stroke="#5a5a5a" stroke-width="0.7"/>
<line x1="695.88" y1="295.57" x2="698.47" y2="295.57" stroke="#5a5a5a" stroke-width="0.7"/>
<line x1="695.88" y1="304.77" x2="698.47" y2="304.77" stroke="#5a5a5a" stroke-width="0.7"/>
<rect x="699.72" y="311.67" width="3.90" height="10.73" fill="#000" stroke="#000" stroke-width="0.6"/>
<line x1="701.67" y1="304.77" x2="701.67" y2="311.67" stroke="#5a5a5a" stroke-width="0.7"/>
<line x1="700.38" y1="304.77" x2="702.97" y2="304.77" stroke="#5a5a5a" stroke-width="0.7"/>
<text x="688.54" y="334.70" font-size="8.0" text-anchor="middle" font-weight="normal" font-style="italic" fill="#000" stroke="#000" stroke-width="0.15">CYC1</text>
<rect x="710.15" y="307.07" width="3.90" height="15.33" fill="url(#p1)" stroke="#111" stroke-width="0.6"/>
<line x1="712.10" y1="305.84" x2="712.10" y2="308.30" stroke="#5a5a5a" stroke-width="0.7"/>
<line x1="710.80" y1="305.84" x2="713.40" y2="305.84" stroke="#5a5a5a" stroke-width="0.7"/>
<line x1="710.80" y1="308.30" x2="713.40" y2="308.30" stroke="#5a5a5a" stroke-width="0.7"/>
<rect x="714.65" y="302.78" width="3.90" height="19.62" fill="url(#p2)" stroke="#222" stroke-width="0.6"/>
<line x1="716.60" y1="301.86" x2="716.60" y2="303.70" stroke="#5a5a5a" stroke-width="0.7"/>
<line x1="715.30" y1="301.86" x2="717.90" y2="301.86" stroke="#5a5a5a" stroke-width="0.7"/>
<line x1="715.30" y1="303.70" x2="717.90" y2="303.70" stroke="#5a5a5a" stroke-width="0.7"/>
<rect x="719.15" y="306.30" width="3.90" height="16.10" fill="url(#p3)" stroke="#555" stroke-width="0.6"/>
<line x1="721.10" y1="305.54" x2="721.10" y2="307.07" stroke="#5a5a5a" stroke-width="0.7"/>
<line x1="719.80" y1="305.54" x2="722.40" y2="305.54" stroke="#5a5a5a" stroke-width="0.7"/>
<line x1="719.80" y1="307.07" x2="722.40" y2="307.07" stroke="#5a5a5a" stroke-width="0.7"/>
<rect x="723.65" y="303.70" width="3.90" height="18.70" fill="url(#p4)" stroke="#777" stroke-width="0.6"/>
<line x1="725.60" y1="302.78" x2="725.60" y2="304.62" stroke="#5a5a5a" stroke-width="0.7"/>
<line x1="724.30" y1="302.78" x2="726.90" y2="302.78" stroke="#5a5a5a" stroke-width="0.7"/>
<line x1="724.30" y1="304.62" x2="726.90" y2="304.62" stroke="#5a5a5a" stroke-width="0.7"/>
<rect x="728.15" y="305.84" width="3.90" height="16.56" fill="#fff" stroke="#2a2a2a" stroke-width="0.6"/>
<line x1="730.10" y1="305.23" x2="730.10" y2="306.46" stroke="#5a5a5a" stroke-width="0.7"/>
<line x1="728.80" y1="305.23" x2="731.40" y2="305.23" stroke="#5a5a5a" stroke-width="0.7"/>
<line x1="728.80" y1="306.46" x2="731.40" y2="306.46" stroke="#5a5a5a" stroke-width="0.7"/>
<rect x="732.65" y="274.11" width="3.90" height="48.29" fill="#c9c9c9" stroke="#4a4a4a" stroke-width="0.6"/>
<line x1="734.60" y1="261.85" x2="734.60" y2="286.37" stroke="#5a5a5a" stroke-width="0.7"/>
<line x1="733.30" y1="261.85" x2="735.90" y2="261.85" stroke="#5a5a5a" stroke-width="0.7"/>
<line x1="733.30" y1="286.37" x2="735.90" y2="286.37" stroke="#5a5a5a" stroke-width="0.7"/>
<rect x="737.15" y="281.78" width="3.90" height="40.62" fill="#000" stroke="#000" stroke-width="0.6"/>
<line x1="739.10" y1="277.94" x2="739.10" y2="281.78" stroke="#5a5a5a" stroke-width="0.7"/>
<line x1="737.80" y1="277.94" x2="740.40" y2="277.94" stroke="#5a5a5a" stroke-width="0.7"/>
<text x="725.96" y="334.70" font-size="8.0" text-anchor="middle" font-weight="normal" font-style="italic" fill="#000" stroke="#000" stroke-width="0.15">TPS1</text>
<rect x="747.57" y="296.34" width="3.90" height="26.06" fill="url(#p1)" stroke="#111" stroke-width="0.6"/>
<line x1="749.52" y1="295.11" x2="749.52" y2="297.57" stroke="#5a5a5a" stroke-width="0.7"/>
<line x1="748.23" y1="295.11" x2="750.82" y2="295.11" stroke="#5a5a5a" stroke-width="0.7"/>
<line x1="748.23" y1="297.57" x2="750.82" y2="297.57" stroke="#5a5a5a" stroke-width="0.7"/>
<rect x="752.07" y="291.28" width="3.90" height="31.12" fill="url(#p2)" stroke="#222" stroke-width="0.6"/>
<line x1="754.02" y1="290.36" x2="754.02" y2="292.20" stroke="#5a5a5a" stroke-width="0.7"/>
<line x1="752.73" y1="290.36" x2="755.32" y2="290.36" stroke="#5a5a5a" stroke-width="0.7"/>
<line x1="752.73" y1="292.20" x2="755.32" y2="292.20" stroke="#5a5a5a" stroke-width="0.7"/>
<rect x="756.57" y="292.51" width="3.90" height="29.89" fill="url(#p3)" stroke="#555" stroke-width="0.6"/>
<line x1="758.52" y1="291.28" x2="758.52" y2="293.73" stroke="#5a5a5a" stroke-width="0.7"/>
<line x1="757.23" y1="291.28" x2="759.82" y2="291.28" stroke="#5a5a5a" stroke-width="0.7"/>
<line x1="757.23" y1="293.73" x2="759.82" y2="293.73" stroke="#5a5a5a" stroke-width="0.7"/>
<rect x="761.07" y="288.67" width="3.90" height="33.73" fill="url(#p4)" stroke="#777" stroke-width="0.6"/>
<line x1="763.02" y1="285.91" x2="763.02" y2="291.43" stroke="#5a5a5a" stroke-width="0.7"/>
<line x1="761.73" y1="285.91" x2="764.32" y2="285.91" stroke="#5a5a5a" stroke-width="0.7"/>
<line x1="761.73" y1="291.43" x2="764.32" y2="291.43" stroke="#5a5a5a" stroke-width="0.7"/>
<rect x="765.57" y="285.61" width="3.90" height="36.79" fill="#fff" stroke="#2a2a2a" stroke-width="0.6"/>
<line x1="767.52" y1="283.77" x2="767.52" y2="287.45" stroke="#5a5a5a" stroke-width="0.7"/>
<line x1="766.23" y1="283.77" x2="768.82" y2="283.77" stroke="#5a5a5a" stroke-width="0.7"/>
<line x1="766.23" y1="287.45" x2="768.82" y2="287.45" stroke="#5a5a5a" stroke-width="0.7"/>
<rect x="770.07" y="261.85" width="3.90" height="60.55" fill="#c9c9c9" stroke="#4a4a4a" stroke-width="0.6"/>
<line x1="772.02" y1="260.62" x2="772.02" y2="263.07" stroke="#5a5a5a" stroke-width="0.7"/>
<line x1="770.73" y1="260.62" x2="773.32" y2="260.62" stroke="#5a5a5a" stroke-width="0.7"/>
<line x1="770.73" y1="263.07" x2="773.32" y2="263.07" stroke="#5a5a5a" stroke-width="0.7"/>
<rect x="774.57" y="231.19" width="3.90" height="91.21" fill="#000" stroke="#000" stroke-width="0.6"/>
<line x1="776.52" y1="215.86" x2="776.52" y2="231.19" stroke="#5a5a5a" stroke-width="0.7"/>
<line x1="775.23" y1="215.86" x2="777.82" y2="215.86" stroke="#5a5a5a" stroke-width="0.7"/>
<text x="763.39" y="334.70" font-size="8.0" text-anchor="middle" font-weight="normal" font-style="italic" fill="#000" stroke="#000" stroke-width="0.15">CUP1</text>
<polygon points="674.60,301.70 675.20,303.57 677.17,303.57 675.58,304.72 676.19,306.58 674.60,305.43 673.01,306.58 673.62,304.72 672.03,303.57 674.00,303.57" fill="#111"/>
</svg>
</body></html>
